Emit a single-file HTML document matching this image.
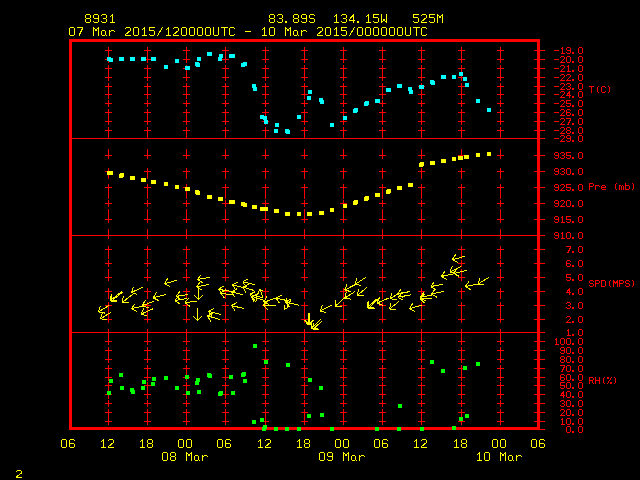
<!DOCTYPE html>
<html><head><meta charset="utf-8"><title>Meteogram 8931</title>
<style>
html,body{margin:0;padding:0;background:#000;font-family:"Liberation Sans",sans-serif;}
svg{display:block}
</style></head>
<body>
<svg width="640" height="480" viewBox="0 0 640 480" shape-rendering="crispEdges">
<rect x="0" y="0" width="640" height="480" fill="#000"/>
<rect x="108" y="47" width="1" height="16" fill="#ff0000"/>
<rect x="108" y="65" width="1" height="16" fill="#ff0000"/>
<rect x="108" y="83" width="1" height="16" fill="#ff0000"/>
<rect x="108" y="100" width="1" height="7" fill="#ff0000"/>
<rect x="108" y="109" width="1" height="16" fill="#ff0000"/>
<rect x="108" y="127" width="1" height="12" fill="#ff0000"/>
<rect x="108" y="149" width="1" height="10" fill="#ff0000"/>
<rect x="108" y="168" width="1" height="11" fill="#ff0000"/>
<rect x="108" y="184" width="1" height="15" fill="#ff0000"/>
<rect x="108" y="200" width="1" height="7" fill="#ff0000"/>
<rect x="108" y="209" width="1" height="14" fill="#ff0000"/>
<rect x="108" y="229" width="1" height="10" fill="#ff0000"/>
<rect x="108" y="246" width="1" height="13" fill="#ff0000"/>
<rect x="108" y="260" width="1" height="7" fill="#ff0000"/>
<rect x="108" y="269" width="1" height="12" fill="#ff0000"/>
<rect x="108" y="288" width="1" height="11" fill="#ff0000"/>
<rect x="108" y="302" width="1" height="21" fill="#ff0000"/>
<rect x="108" y="329" width="1" height="16" fill="#ff0000"/>
<rect x="108" y="347" width="1" height="16" fill="#ff0000"/>
<rect x="108" y="365" width="1" height="16" fill="#ff0000"/>
<rect x="108" y="382" width="1" height="17" fill="#ff0000"/>
<rect x="108" y="400" width="1" height="7" fill="#ff0000"/>
<rect x="108" y="409" width="1" height="16" fill="#ff0000"/>
<rect x="105" y="50" width="7" height="1" fill="#ff0000"/>
<rect x="105" y="59" width="7" height="1" fill="#ff0000"/>
<rect x="105" y="68" width="7" height="1" fill="#ff0000"/>
<rect x="105" y="77" width="7" height="1" fill="#ff0000"/>
<rect x="105" y="86" width="7" height="1" fill="#ff0000"/>
<rect x="105" y="94" width="7" height="1" fill="#ff0000"/>
<rect x="105" y="103" width="7" height="1" fill="#ff0000"/>
<rect x="105" y="112" width="7" height="1" fill="#ff0000"/>
<rect x="105" y="121" width="7" height="1" fill="#ff0000"/>
<rect x="105" y="130" width="7" height="1" fill="#ff0000"/>
<rect x="105" y="155" width="7" height="1" fill="#ff0000"/>
<rect x="105" y="171" width="7" height="1" fill="#ff0000"/>
<rect x="105" y="187" width="7" height="1" fill="#ff0000"/>
<rect x="105" y="203" width="7" height="1" fill="#ff0000"/>
<rect x="105" y="219" width="7" height="1" fill="#ff0000"/>
<rect x="105" y="249" width="7" height="1" fill="#ff0000"/>
<rect x="105" y="263" width="7" height="1" fill="#ff0000"/>
<rect x="105" y="277" width="7" height="1" fill="#ff0000"/>
<rect x="105" y="291" width="7" height="1" fill="#ff0000"/>
<rect x="105" y="305" width="7" height="1" fill="#ff0000"/>
<rect x="105" y="319" width="7" height="1" fill="#ff0000"/>
<rect x="105" y="341" width="7" height="1" fill="#ff0000"/>
<rect x="105" y="350" width="7" height="1" fill="#ff0000"/>
<rect x="105" y="359" width="7" height="1" fill="#ff0000"/>
<rect x="105" y="368" width="7" height="1" fill="#ff0000"/>
<rect x="105" y="377" width="7" height="1" fill="#ff0000"/>
<rect x="105" y="385" width="7" height="1" fill="#ff0000"/>
<rect x="105" y="394" width="7" height="1" fill="#ff0000"/>
<rect x="105" y="403" width="7" height="1" fill="#ff0000"/>
<rect x="105" y="412" width="7" height="1" fill="#ff0000"/>
<rect x="105" y="421" width="7" height="1" fill="#ff0000"/>
<rect x="147" y="47" width="1" height="16" fill="#ff0000"/>
<rect x="147" y="65" width="1" height="16" fill="#ff0000"/>
<rect x="147" y="83" width="1" height="16" fill="#ff0000"/>
<rect x="147" y="100" width="1" height="7" fill="#ff0000"/>
<rect x="147" y="109" width="1" height="16" fill="#ff0000"/>
<rect x="147" y="127" width="1" height="12" fill="#ff0000"/>
<rect x="147" y="149" width="1" height="10" fill="#ff0000"/>
<rect x="147" y="168" width="1" height="11" fill="#ff0000"/>
<rect x="147" y="184" width="1" height="15" fill="#ff0000"/>
<rect x="147" y="200" width="1" height="7" fill="#ff0000"/>
<rect x="147" y="209" width="1" height="14" fill="#ff0000"/>
<rect x="147" y="229" width="1" height="10" fill="#ff0000"/>
<rect x="147" y="246" width="1" height="13" fill="#ff0000"/>
<rect x="147" y="260" width="1" height="7" fill="#ff0000"/>
<rect x="147" y="269" width="1" height="12" fill="#ff0000"/>
<rect x="147" y="288" width="1" height="11" fill="#ff0000"/>
<rect x="147" y="302" width="1" height="21" fill="#ff0000"/>
<rect x="147" y="329" width="1" height="16" fill="#ff0000"/>
<rect x="147" y="347" width="1" height="16" fill="#ff0000"/>
<rect x="147" y="365" width="1" height="16" fill="#ff0000"/>
<rect x="147" y="382" width="1" height="17" fill="#ff0000"/>
<rect x="147" y="400" width="1" height="7" fill="#ff0000"/>
<rect x="147" y="409" width="1" height="16" fill="#ff0000"/>
<rect x="144" y="50" width="7" height="1" fill="#ff0000"/>
<rect x="144" y="59" width="7" height="1" fill="#ff0000"/>
<rect x="144" y="68" width="7" height="1" fill="#ff0000"/>
<rect x="144" y="77" width="7" height="1" fill="#ff0000"/>
<rect x="144" y="86" width="7" height="1" fill="#ff0000"/>
<rect x="144" y="94" width="7" height="1" fill="#ff0000"/>
<rect x="144" y="103" width="7" height="1" fill="#ff0000"/>
<rect x="144" y="112" width="7" height="1" fill="#ff0000"/>
<rect x="144" y="121" width="7" height="1" fill="#ff0000"/>
<rect x="144" y="130" width="7" height="1" fill="#ff0000"/>
<rect x="144" y="155" width="7" height="1" fill="#ff0000"/>
<rect x="144" y="171" width="7" height="1" fill="#ff0000"/>
<rect x="144" y="187" width="7" height="1" fill="#ff0000"/>
<rect x="144" y="203" width="7" height="1" fill="#ff0000"/>
<rect x="144" y="219" width="7" height="1" fill="#ff0000"/>
<rect x="144" y="249" width="7" height="1" fill="#ff0000"/>
<rect x="144" y="263" width="7" height="1" fill="#ff0000"/>
<rect x="144" y="277" width="7" height="1" fill="#ff0000"/>
<rect x="144" y="291" width="7" height="1" fill="#ff0000"/>
<rect x="144" y="305" width="7" height="1" fill="#ff0000"/>
<rect x="144" y="319" width="7" height="1" fill="#ff0000"/>
<rect x="144" y="341" width="7" height="1" fill="#ff0000"/>
<rect x="144" y="350" width="7" height="1" fill="#ff0000"/>
<rect x="144" y="359" width="7" height="1" fill="#ff0000"/>
<rect x="144" y="368" width="7" height="1" fill="#ff0000"/>
<rect x="144" y="377" width="7" height="1" fill="#ff0000"/>
<rect x="144" y="385" width="7" height="1" fill="#ff0000"/>
<rect x="144" y="394" width="7" height="1" fill="#ff0000"/>
<rect x="144" y="403" width="7" height="1" fill="#ff0000"/>
<rect x="144" y="412" width="7" height="1" fill="#ff0000"/>
<rect x="144" y="421" width="7" height="1" fill="#ff0000"/>
<rect x="186" y="47" width="1" height="16" fill="#ff0000"/>
<rect x="186" y="65" width="1" height="16" fill="#ff0000"/>
<rect x="186" y="83" width="1" height="16" fill="#ff0000"/>
<rect x="186" y="100" width="1" height="7" fill="#ff0000"/>
<rect x="186" y="109" width="1" height="16" fill="#ff0000"/>
<rect x="186" y="127" width="1" height="12" fill="#ff0000"/>
<rect x="186" y="149" width="1" height="10" fill="#ff0000"/>
<rect x="186" y="168" width="1" height="11" fill="#ff0000"/>
<rect x="186" y="184" width="1" height="15" fill="#ff0000"/>
<rect x="186" y="200" width="1" height="7" fill="#ff0000"/>
<rect x="186" y="209" width="1" height="14" fill="#ff0000"/>
<rect x="186" y="229" width="1" height="10" fill="#ff0000"/>
<rect x="186" y="246" width="1" height="13" fill="#ff0000"/>
<rect x="186" y="260" width="1" height="7" fill="#ff0000"/>
<rect x="186" y="269" width="1" height="12" fill="#ff0000"/>
<rect x="186" y="288" width="1" height="11" fill="#ff0000"/>
<rect x="186" y="302" width="1" height="21" fill="#ff0000"/>
<rect x="186" y="329" width="1" height="16" fill="#ff0000"/>
<rect x="186" y="347" width="1" height="16" fill="#ff0000"/>
<rect x="186" y="365" width="1" height="16" fill="#ff0000"/>
<rect x="186" y="382" width="1" height="17" fill="#ff0000"/>
<rect x="186" y="400" width="1" height="7" fill="#ff0000"/>
<rect x="186" y="409" width="1" height="16" fill="#ff0000"/>
<rect x="183" y="50" width="7" height="1" fill="#ff0000"/>
<rect x="183" y="59" width="7" height="1" fill="#ff0000"/>
<rect x="183" y="68" width="7" height="1" fill="#ff0000"/>
<rect x="183" y="77" width="7" height="1" fill="#ff0000"/>
<rect x="183" y="86" width="7" height="1" fill="#ff0000"/>
<rect x="183" y="94" width="7" height="1" fill="#ff0000"/>
<rect x="183" y="103" width="7" height="1" fill="#ff0000"/>
<rect x="183" y="112" width="7" height="1" fill="#ff0000"/>
<rect x="183" y="121" width="7" height="1" fill="#ff0000"/>
<rect x="183" y="130" width="7" height="1" fill="#ff0000"/>
<rect x="183" y="155" width="7" height="1" fill="#ff0000"/>
<rect x="183" y="171" width="7" height="1" fill="#ff0000"/>
<rect x="183" y="187" width="7" height="1" fill="#ff0000"/>
<rect x="183" y="203" width="7" height="1" fill="#ff0000"/>
<rect x="183" y="219" width="7" height="1" fill="#ff0000"/>
<rect x="183" y="249" width="7" height="1" fill="#ff0000"/>
<rect x="183" y="263" width="7" height="1" fill="#ff0000"/>
<rect x="183" y="277" width="7" height="1" fill="#ff0000"/>
<rect x="183" y="291" width="7" height="1" fill="#ff0000"/>
<rect x="183" y="305" width="7" height="1" fill="#ff0000"/>
<rect x="183" y="319" width="7" height="1" fill="#ff0000"/>
<rect x="183" y="341" width="7" height="1" fill="#ff0000"/>
<rect x="183" y="350" width="7" height="1" fill="#ff0000"/>
<rect x="183" y="359" width="7" height="1" fill="#ff0000"/>
<rect x="183" y="368" width="7" height="1" fill="#ff0000"/>
<rect x="183" y="377" width="7" height="1" fill="#ff0000"/>
<rect x="183" y="385" width="7" height="1" fill="#ff0000"/>
<rect x="183" y="394" width="7" height="1" fill="#ff0000"/>
<rect x="183" y="403" width="7" height="1" fill="#ff0000"/>
<rect x="183" y="412" width="7" height="1" fill="#ff0000"/>
<rect x="183" y="421" width="7" height="1" fill="#ff0000"/>
<rect x="225" y="47" width="1" height="16" fill="#ff0000"/>
<rect x="225" y="65" width="1" height="16" fill="#ff0000"/>
<rect x="225" y="83" width="1" height="16" fill="#ff0000"/>
<rect x="225" y="100" width="1" height="7" fill="#ff0000"/>
<rect x="225" y="109" width="1" height="16" fill="#ff0000"/>
<rect x="225" y="127" width="1" height="12" fill="#ff0000"/>
<rect x="225" y="149" width="1" height="10" fill="#ff0000"/>
<rect x="225" y="168" width="1" height="11" fill="#ff0000"/>
<rect x="225" y="184" width="1" height="15" fill="#ff0000"/>
<rect x="225" y="200" width="1" height="7" fill="#ff0000"/>
<rect x="225" y="209" width="1" height="14" fill="#ff0000"/>
<rect x="225" y="229" width="1" height="10" fill="#ff0000"/>
<rect x="225" y="246" width="1" height="13" fill="#ff0000"/>
<rect x="225" y="260" width="1" height="7" fill="#ff0000"/>
<rect x="225" y="269" width="1" height="12" fill="#ff0000"/>
<rect x="225" y="288" width="1" height="11" fill="#ff0000"/>
<rect x="225" y="302" width="1" height="21" fill="#ff0000"/>
<rect x="225" y="329" width="1" height="16" fill="#ff0000"/>
<rect x="225" y="347" width="1" height="16" fill="#ff0000"/>
<rect x="225" y="365" width="1" height="16" fill="#ff0000"/>
<rect x="225" y="382" width="1" height="17" fill="#ff0000"/>
<rect x="225" y="400" width="1" height="7" fill="#ff0000"/>
<rect x="225" y="409" width="1" height="16" fill="#ff0000"/>
<rect x="222" y="50" width="7" height="1" fill="#ff0000"/>
<rect x="222" y="59" width="7" height="1" fill="#ff0000"/>
<rect x="222" y="68" width="7" height="1" fill="#ff0000"/>
<rect x="222" y="77" width="7" height="1" fill="#ff0000"/>
<rect x="222" y="86" width="7" height="1" fill="#ff0000"/>
<rect x="222" y="94" width="7" height="1" fill="#ff0000"/>
<rect x="222" y="103" width="7" height="1" fill="#ff0000"/>
<rect x="222" y="112" width="7" height="1" fill="#ff0000"/>
<rect x="222" y="121" width="7" height="1" fill="#ff0000"/>
<rect x="222" y="130" width="7" height="1" fill="#ff0000"/>
<rect x="222" y="155" width="7" height="1" fill="#ff0000"/>
<rect x="222" y="171" width="7" height="1" fill="#ff0000"/>
<rect x="222" y="187" width="7" height="1" fill="#ff0000"/>
<rect x="222" y="203" width="7" height="1" fill="#ff0000"/>
<rect x="222" y="219" width="7" height="1" fill="#ff0000"/>
<rect x="222" y="249" width="7" height="1" fill="#ff0000"/>
<rect x="222" y="263" width="7" height="1" fill="#ff0000"/>
<rect x="222" y="277" width="7" height="1" fill="#ff0000"/>
<rect x="222" y="291" width="7" height="1" fill="#ff0000"/>
<rect x="222" y="305" width="7" height="1" fill="#ff0000"/>
<rect x="222" y="319" width="7" height="1" fill="#ff0000"/>
<rect x="222" y="341" width="7" height="1" fill="#ff0000"/>
<rect x="222" y="350" width="7" height="1" fill="#ff0000"/>
<rect x="222" y="359" width="7" height="1" fill="#ff0000"/>
<rect x="222" y="368" width="7" height="1" fill="#ff0000"/>
<rect x="222" y="377" width="7" height="1" fill="#ff0000"/>
<rect x="222" y="385" width="7" height="1" fill="#ff0000"/>
<rect x="222" y="394" width="7" height="1" fill="#ff0000"/>
<rect x="222" y="403" width="7" height="1" fill="#ff0000"/>
<rect x="222" y="412" width="7" height="1" fill="#ff0000"/>
<rect x="222" y="421" width="7" height="1" fill="#ff0000"/>
<rect x="265" y="47" width="1" height="16" fill="#ff0000"/>
<rect x="265" y="65" width="1" height="16" fill="#ff0000"/>
<rect x="265" y="83" width="1" height="16" fill="#ff0000"/>
<rect x="265" y="100" width="1" height="7" fill="#ff0000"/>
<rect x="265" y="109" width="1" height="16" fill="#ff0000"/>
<rect x="265" y="127" width="1" height="12" fill="#ff0000"/>
<rect x="265" y="149" width="1" height="10" fill="#ff0000"/>
<rect x="265" y="168" width="1" height="11" fill="#ff0000"/>
<rect x="265" y="184" width="1" height="15" fill="#ff0000"/>
<rect x="265" y="200" width="1" height="7" fill="#ff0000"/>
<rect x="265" y="209" width="1" height="14" fill="#ff0000"/>
<rect x="265" y="229" width="1" height="10" fill="#ff0000"/>
<rect x="265" y="246" width="1" height="13" fill="#ff0000"/>
<rect x="265" y="260" width="1" height="7" fill="#ff0000"/>
<rect x="265" y="269" width="1" height="12" fill="#ff0000"/>
<rect x="265" y="288" width="1" height="11" fill="#ff0000"/>
<rect x="265" y="302" width="1" height="21" fill="#ff0000"/>
<rect x="265" y="329" width="1" height="16" fill="#ff0000"/>
<rect x="265" y="347" width="1" height="16" fill="#ff0000"/>
<rect x="265" y="365" width="1" height="16" fill="#ff0000"/>
<rect x="265" y="382" width="1" height="17" fill="#ff0000"/>
<rect x="265" y="400" width="1" height="7" fill="#ff0000"/>
<rect x="265" y="409" width="1" height="16" fill="#ff0000"/>
<rect x="262" y="50" width="7" height="1" fill="#ff0000"/>
<rect x="262" y="59" width="7" height="1" fill="#ff0000"/>
<rect x="262" y="68" width="7" height="1" fill="#ff0000"/>
<rect x="262" y="77" width="7" height="1" fill="#ff0000"/>
<rect x="262" y="86" width="7" height="1" fill="#ff0000"/>
<rect x="262" y="94" width="7" height="1" fill="#ff0000"/>
<rect x="262" y="103" width="7" height="1" fill="#ff0000"/>
<rect x="262" y="112" width="7" height="1" fill="#ff0000"/>
<rect x="262" y="121" width="7" height="1" fill="#ff0000"/>
<rect x="262" y="130" width="7" height="1" fill="#ff0000"/>
<rect x="262" y="155" width="7" height="1" fill="#ff0000"/>
<rect x="262" y="171" width="7" height="1" fill="#ff0000"/>
<rect x="262" y="187" width="7" height="1" fill="#ff0000"/>
<rect x="262" y="203" width="7" height="1" fill="#ff0000"/>
<rect x="262" y="219" width="7" height="1" fill="#ff0000"/>
<rect x="262" y="249" width="7" height="1" fill="#ff0000"/>
<rect x="262" y="263" width="7" height="1" fill="#ff0000"/>
<rect x="262" y="277" width="7" height="1" fill="#ff0000"/>
<rect x="262" y="291" width="7" height="1" fill="#ff0000"/>
<rect x="262" y="305" width="7" height="1" fill="#ff0000"/>
<rect x="262" y="319" width="7" height="1" fill="#ff0000"/>
<rect x="262" y="341" width="7" height="1" fill="#ff0000"/>
<rect x="262" y="350" width="7" height="1" fill="#ff0000"/>
<rect x="262" y="359" width="7" height="1" fill="#ff0000"/>
<rect x="262" y="368" width="7" height="1" fill="#ff0000"/>
<rect x="262" y="377" width="7" height="1" fill="#ff0000"/>
<rect x="262" y="385" width="7" height="1" fill="#ff0000"/>
<rect x="262" y="394" width="7" height="1" fill="#ff0000"/>
<rect x="262" y="403" width="7" height="1" fill="#ff0000"/>
<rect x="262" y="412" width="7" height="1" fill="#ff0000"/>
<rect x="262" y="421" width="7" height="1" fill="#ff0000"/>
<rect x="304" y="47" width="1" height="16" fill="#ff0000"/>
<rect x="304" y="65" width="1" height="16" fill="#ff0000"/>
<rect x="304" y="83" width="1" height="16" fill="#ff0000"/>
<rect x="304" y="100" width="1" height="7" fill="#ff0000"/>
<rect x="304" y="109" width="1" height="16" fill="#ff0000"/>
<rect x="304" y="127" width="1" height="12" fill="#ff0000"/>
<rect x="304" y="149" width="1" height="10" fill="#ff0000"/>
<rect x="304" y="168" width="1" height="11" fill="#ff0000"/>
<rect x="304" y="184" width="1" height="15" fill="#ff0000"/>
<rect x="304" y="200" width="1" height="7" fill="#ff0000"/>
<rect x="304" y="209" width="1" height="14" fill="#ff0000"/>
<rect x="304" y="229" width="1" height="10" fill="#ff0000"/>
<rect x="304" y="246" width="1" height="13" fill="#ff0000"/>
<rect x="304" y="260" width="1" height="7" fill="#ff0000"/>
<rect x="304" y="269" width="1" height="12" fill="#ff0000"/>
<rect x="304" y="288" width="1" height="11" fill="#ff0000"/>
<rect x="304" y="302" width="1" height="21" fill="#ff0000"/>
<rect x="304" y="329" width="1" height="16" fill="#ff0000"/>
<rect x="304" y="347" width="1" height="16" fill="#ff0000"/>
<rect x="304" y="365" width="1" height="16" fill="#ff0000"/>
<rect x="304" y="382" width="1" height="17" fill="#ff0000"/>
<rect x="304" y="400" width="1" height="7" fill="#ff0000"/>
<rect x="304" y="409" width="1" height="16" fill="#ff0000"/>
<rect x="301" y="50" width="7" height="1" fill="#ff0000"/>
<rect x="301" y="59" width="7" height="1" fill="#ff0000"/>
<rect x="301" y="68" width="7" height="1" fill="#ff0000"/>
<rect x="301" y="77" width="7" height="1" fill="#ff0000"/>
<rect x="301" y="86" width="7" height="1" fill="#ff0000"/>
<rect x="301" y="94" width="7" height="1" fill="#ff0000"/>
<rect x="301" y="103" width="7" height="1" fill="#ff0000"/>
<rect x="301" y="112" width="7" height="1" fill="#ff0000"/>
<rect x="301" y="121" width="7" height="1" fill="#ff0000"/>
<rect x="301" y="130" width="7" height="1" fill="#ff0000"/>
<rect x="301" y="155" width="7" height="1" fill="#ff0000"/>
<rect x="301" y="171" width="7" height="1" fill="#ff0000"/>
<rect x="301" y="187" width="7" height="1" fill="#ff0000"/>
<rect x="301" y="203" width="7" height="1" fill="#ff0000"/>
<rect x="301" y="219" width="7" height="1" fill="#ff0000"/>
<rect x="301" y="249" width="7" height="1" fill="#ff0000"/>
<rect x="301" y="263" width="7" height="1" fill="#ff0000"/>
<rect x="301" y="277" width="7" height="1" fill="#ff0000"/>
<rect x="301" y="291" width="7" height="1" fill="#ff0000"/>
<rect x="301" y="305" width="7" height="1" fill="#ff0000"/>
<rect x="301" y="319" width="7" height="1" fill="#ff0000"/>
<rect x="301" y="341" width="7" height="1" fill="#ff0000"/>
<rect x="301" y="350" width="7" height="1" fill="#ff0000"/>
<rect x="301" y="359" width="7" height="1" fill="#ff0000"/>
<rect x="301" y="368" width="7" height="1" fill="#ff0000"/>
<rect x="301" y="377" width="7" height="1" fill="#ff0000"/>
<rect x="301" y="385" width="7" height="1" fill="#ff0000"/>
<rect x="301" y="394" width="7" height="1" fill="#ff0000"/>
<rect x="301" y="403" width="7" height="1" fill="#ff0000"/>
<rect x="301" y="412" width="7" height="1" fill="#ff0000"/>
<rect x="301" y="421" width="7" height="1" fill="#ff0000"/>
<rect x="343" y="47" width="1" height="16" fill="#ff0000"/>
<rect x="343" y="65" width="1" height="16" fill="#ff0000"/>
<rect x="343" y="83" width="1" height="16" fill="#ff0000"/>
<rect x="343" y="100" width="1" height="7" fill="#ff0000"/>
<rect x="343" y="109" width="1" height="16" fill="#ff0000"/>
<rect x="343" y="127" width="1" height="12" fill="#ff0000"/>
<rect x="343" y="149" width="1" height="10" fill="#ff0000"/>
<rect x="343" y="168" width="1" height="11" fill="#ff0000"/>
<rect x="343" y="184" width="1" height="15" fill="#ff0000"/>
<rect x="343" y="200" width="1" height="7" fill="#ff0000"/>
<rect x="343" y="209" width="1" height="14" fill="#ff0000"/>
<rect x="343" y="229" width="1" height="10" fill="#ff0000"/>
<rect x="343" y="246" width="1" height="13" fill="#ff0000"/>
<rect x="343" y="260" width="1" height="7" fill="#ff0000"/>
<rect x="343" y="269" width="1" height="12" fill="#ff0000"/>
<rect x="343" y="288" width="1" height="11" fill="#ff0000"/>
<rect x="343" y="302" width="1" height="21" fill="#ff0000"/>
<rect x="343" y="329" width="1" height="16" fill="#ff0000"/>
<rect x="343" y="347" width="1" height="16" fill="#ff0000"/>
<rect x="343" y="365" width="1" height="16" fill="#ff0000"/>
<rect x="343" y="382" width="1" height="17" fill="#ff0000"/>
<rect x="343" y="400" width="1" height="7" fill="#ff0000"/>
<rect x="343" y="409" width="1" height="16" fill="#ff0000"/>
<rect x="340" y="50" width="7" height="1" fill="#ff0000"/>
<rect x="340" y="59" width="7" height="1" fill="#ff0000"/>
<rect x="340" y="68" width="7" height="1" fill="#ff0000"/>
<rect x="340" y="77" width="7" height="1" fill="#ff0000"/>
<rect x="340" y="86" width="7" height="1" fill="#ff0000"/>
<rect x="340" y="94" width="7" height="1" fill="#ff0000"/>
<rect x="340" y="103" width="7" height="1" fill="#ff0000"/>
<rect x="340" y="112" width="7" height="1" fill="#ff0000"/>
<rect x="340" y="121" width="7" height="1" fill="#ff0000"/>
<rect x="340" y="130" width="7" height="1" fill="#ff0000"/>
<rect x="340" y="155" width="7" height="1" fill="#ff0000"/>
<rect x="340" y="171" width="7" height="1" fill="#ff0000"/>
<rect x="340" y="187" width="7" height="1" fill="#ff0000"/>
<rect x="340" y="203" width="7" height="1" fill="#ff0000"/>
<rect x="340" y="219" width="7" height="1" fill="#ff0000"/>
<rect x="340" y="249" width="7" height="1" fill="#ff0000"/>
<rect x="340" y="263" width="7" height="1" fill="#ff0000"/>
<rect x="340" y="277" width="7" height="1" fill="#ff0000"/>
<rect x="340" y="291" width="7" height="1" fill="#ff0000"/>
<rect x="340" y="305" width="7" height="1" fill="#ff0000"/>
<rect x="340" y="319" width="7" height="1" fill="#ff0000"/>
<rect x="340" y="341" width="7" height="1" fill="#ff0000"/>
<rect x="340" y="350" width="7" height="1" fill="#ff0000"/>
<rect x="340" y="359" width="7" height="1" fill="#ff0000"/>
<rect x="340" y="368" width="7" height="1" fill="#ff0000"/>
<rect x="340" y="377" width="7" height="1" fill="#ff0000"/>
<rect x="340" y="385" width="7" height="1" fill="#ff0000"/>
<rect x="340" y="394" width="7" height="1" fill="#ff0000"/>
<rect x="340" y="403" width="7" height="1" fill="#ff0000"/>
<rect x="340" y="412" width="7" height="1" fill="#ff0000"/>
<rect x="340" y="421" width="7" height="1" fill="#ff0000"/>
<rect x="382" y="47" width="1" height="16" fill="#ff0000"/>
<rect x="382" y="65" width="1" height="16" fill="#ff0000"/>
<rect x="382" y="83" width="1" height="16" fill="#ff0000"/>
<rect x="382" y="100" width="1" height="7" fill="#ff0000"/>
<rect x="382" y="109" width="1" height="16" fill="#ff0000"/>
<rect x="382" y="127" width="1" height="12" fill="#ff0000"/>
<rect x="382" y="149" width="1" height="10" fill="#ff0000"/>
<rect x="382" y="168" width="1" height="11" fill="#ff0000"/>
<rect x="382" y="184" width="1" height="15" fill="#ff0000"/>
<rect x="382" y="200" width="1" height="7" fill="#ff0000"/>
<rect x="382" y="209" width="1" height="14" fill="#ff0000"/>
<rect x="382" y="229" width="1" height="10" fill="#ff0000"/>
<rect x="382" y="246" width="1" height="13" fill="#ff0000"/>
<rect x="382" y="260" width="1" height="7" fill="#ff0000"/>
<rect x="382" y="269" width="1" height="12" fill="#ff0000"/>
<rect x="382" y="288" width="1" height="11" fill="#ff0000"/>
<rect x="382" y="302" width="1" height="21" fill="#ff0000"/>
<rect x="382" y="329" width="1" height="16" fill="#ff0000"/>
<rect x="382" y="347" width="1" height="16" fill="#ff0000"/>
<rect x="382" y="365" width="1" height="16" fill="#ff0000"/>
<rect x="382" y="382" width="1" height="17" fill="#ff0000"/>
<rect x="382" y="400" width="1" height="7" fill="#ff0000"/>
<rect x="382" y="409" width="1" height="16" fill="#ff0000"/>
<rect x="379" y="50" width="7" height="1" fill="#ff0000"/>
<rect x="379" y="59" width="7" height="1" fill="#ff0000"/>
<rect x="379" y="68" width="7" height="1" fill="#ff0000"/>
<rect x="379" y="77" width="7" height="1" fill="#ff0000"/>
<rect x="379" y="86" width="7" height="1" fill="#ff0000"/>
<rect x="379" y="94" width="7" height="1" fill="#ff0000"/>
<rect x="379" y="103" width="7" height="1" fill="#ff0000"/>
<rect x="379" y="112" width="7" height="1" fill="#ff0000"/>
<rect x="379" y="121" width="7" height="1" fill="#ff0000"/>
<rect x="379" y="130" width="7" height="1" fill="#ff0000"/>
<rect x="379" y="155" width="7" height="1" fill="#ff0000"/>
<rect x="379" y="171" width="7" height="1" fill="#ff0000"/>
<rect x="379" y="187" width="7" height="1" fill="#ff0000"/>
<rect x="379" y="203" width="7" height="1" fill="#ff0000"/>
<rect x="379" y="219" width="7" height="1" fill="#ff0000"/>
<rect x="379" y="249" width="7" height="1" fill="#ff0000"/>
<rect x="379" y="263" width="7" height="1" fill="#ff0000"/>
<rect x="379" y="277" width="7" height="1" fill="#ff0000"/>
<rect x="379" y="291" width="7" height="1" fill="#ff0000"/>
<rect x="379" y="305" width="7" height="1" fill="#ff0000"/>
<rect x="379" y="319" width="7" height="1" fill="#ff0000"/>
<rect x="379" y="341" width="7" height="1" fill="#ff0000"/>
<rect x="379" y="350" width="7" height="1" fill="#ff0000"/>
<rect x="379" y="359" width="7" height="1" fill="#ff0000"/>
<rect x="379" y="368" width="7" height="1" fill="#ff0000"/>
<rect x="379" y="377" width="7" height="1" fill="#ff0000"/>
<rect x="379" y="385" width="7" height="1" fill="#ff0000"/>
<rect x="379" y="394" width="7" height="1" fill="#ff0000"/>
<rect x="379" y="403" width="7" height="1" fill="#ff0000"/>
<rect x="379" y="412" width="7" height="1" fill="#ff0000"/>
<rect x="379" y="421" width="7" height="1" fill="#ff0000"/>
<rect x="421" y="47" width="1" height="16" fill="#ff0000"/>
<rect x="421" y="65" width="1" height="16" fill="#ff0000"/>
<rect x="421" y="83" width="1" height="16" fill="#ff0000"/>
<rect x="421" y="100" width="1" height="7" fill="#ff0000"/>
<rect x="421" y="109" width="1" height="16" fill="#ff0000"/>
<rect x="421" y="127" width="1" height="12" fill="#ff0000"/>
<rect x="421" y="149" width="1" height="10" fill="#ff0000"/>
<rect x="421" y="168" width="1" height="11" fill="#ff0000"/>
<rect x="421" y="184" width="1" height="15" fill="#ff0000"/>
<rect x="421" y="200" width="1" height="7" fill="#ff0000"/>
<rect x="421" y="209" width="1" height="14" fill="#ff0000"/>
<rect x="421" y="229" width="1" height="10" fill="#ff0000"/>
<rect x="421" y="246" width="1" height="13" fill="#ff0000"/>
<rect x="421" y="260" width="1" height="7" fill="#ff0000"/>
<rect x="421" y="269" width="1" height="12" fill="#ff0000"/>
<rect x="421" y="288" width="1" height="11" fill="#ff0000"/>
<rect x="421" y="302" width="1" height="21" fill="#ff0000"/>
<rect x="421" y="329" width="1" height="16" fill="#ff0000"/>
<rect x="421" y="347" width="1" height="16" fill="#ff0000"/>
<rect x="421" y="365" width="1" height="16" fill="#ff0000"/>
<rect x="421" y="382" width="1" height="17" fill="#ff0000"/>
<rect x="421" y="400" width="1" height="7" fill="#ff0000"/>
<rect x="421" y="409" width="1" height="16" fill="#ff0000"/>
<rect x="418" y="50" width="7" height="1" fill="#ff0000"/>
<rect x="418" y="59" width="7" height="1" fill="#ff0000"/>
<rect x="418" y="68" width="7" height="1" fill="#ff0000"/>
<rect x="418" y="77" width="7" height="1" fill="#ff0000"/>
<rect x="418" y="86" width="7" height="1" fill="#ff0000"/>
<rect x="418" y="94" width="7" height="1" fill="#ff0000"/>
<rect x="418" y="103" width="7" height="1" fill="#ff0000"/>
<rect x="418" y="112" width="7" height="1" fill="#ff0000"/>
<rect x="418" y="121" width="7" height="1" fill="#ff0000"/>
<rect x="418" y="130" width="7" height="1" fill="#ff0000"/>
<rect x="418" y="155" width="7" height="1" fill="#ff0000"/>
<rect x="418" y="171" width="7" height="1" fill="#ff0000"/>
<rect x="418" y="187" width="7" height="1" fill="#ff0000"/>
<rect x="418" y="203" width="7" height="1" fill="#ff0000"/>
<rect x="418" y="219" width="7" height="1" fill="#ff0000"/>
<rect x="418" y="249" width="7" height="1" fill="#ff0000"/>
<rect x="418" y="263" width="7" height="1" fill="#ff0000"/>
<rect x="418" y="277" width="7" height="1" fill="#ff0000"/>
<rect x="418" y="291" width="7" height="1" fill="#ff0000"/>
<rect x="418" y="305" width="7" height="1" fill="#ff0000"/>
<rect x="418" y="319" width="7" height="1" fill="#ff0000"/>
<rect x="418" y="341" width="7" height="1" fill="#ff0000"/>
<rect x="418" y="350" width="7" height="1" fill="#ff0000"/>
<rect x="418" y="359" width="7" height="1" fill="#ff0000"/>
<rect x="418" y="368" width="7" height="1" fill="#ff0000"/>
<rect x="418" y="377" width="7" height="1" fill="#ff0000"/>
<rect x="418" y="385" width="7" height="1" fill="#ff0000"/>
<rect x="418" y="394" width="7" height="1" fill="#ff0000"/>
<rect x="418" y="403" width="7" height="1" fill="#ff0000"/>
<rect x="418" y="412" width="7" height="1" fill="#ff0000"/>
<rect x="418" y="421" width="7" height="1" fill="#ff0000"/>
<rect x="461" y="47" width="1" height="16" fill="#ff0000"/>
<rect x="461" y="65" width="1" height="16" fill="#ff0000"/>
<rect x="461" y="83" width="1" height="16" fill="#ff0000"/>
<rect x="461" y="100" width="1" height="7" fill="#ff0000"/>
<rect x="461" y="109" width="1" height="16" fill="#ff0000"/>
<rect x="461" y="127" width="1" height="12" fill="#ff0000"/>
<rect x="461" y="149" width="1" height="10" fill="#ff0000"/>
<rect x="461" y="168" width="1" height="11" fill="#ff0000"/>
<rect x="461" y="184" width="1" height="15" fill="#ff0000"/>
<rect x="461" y="200" width="1" height="7" fill="#ff0000"/>
<rect x="461" y="209" width="1" height="14" fill="#ff0000"/>
<rect x="461" y="229" width="1" height="10" fill="#ff0000"/>
<rect x="461" y="246" width="1" height="13" fill="#ff0000"/>
<rect x="461" y="260" width="1" height="7" fill="#ff0000"/>
<rect x="461" y="269" width="1" height="12" fill="#ff0000"/>
<rect x="461" y="288" width="1" height="11" fill="#ff0000"/>
<rect x="461" y="302" width="1" height="21" fill="#ff0000"/>
<rect x="461" y="329" width="1" height="16" fill="#ff0000"/>
<rect x="461" y="347" width="1" height="16" fill="#ff0000"/>
<rect x="461" y="365" width="1" height="16" fill="#ff0000"/>
<rect x="461" y="382" width="1" height="17" fill="#ff0000"/>
<rect x="461" y="400" width="1" height="7" fill="#ff0000"/>
<rect x="461" y="409" width="1" height="16" fill="#ff0000"/>
<rect x="458" y="50" width="7" height="1" fill="#ff0000"/>
<rect x="458" y="59" width="7" height="1" fill="#ff0000"/>
<rect x="458" y="68" width="7" height="1" fill="#ff0000"/>
<rect x="458" y="77" width="7" height="1" fill="#ff0000"/>
<rect x="458" y="86" width="7" height="1" fill="#ff0000"/>
<rect x="458" y="94" width="7" height="1" fill="#ff0000"/>
<rect x="458" y="103" width="7" height="1" fill="#ff0000"/>
<rect x="458" y="112" width="7" height="1" fill="#ff0000"/>
<rect x="458" y="121" width="7" height="1" fill="#ff0000"/>
<rect x="458" y="130" width="7" height="1" fill="#ff0000"/>
<rect x="458" y="155" width="7" height="1" fill="#ff0000"/>
<rect x="458" y="171" width="7" height="1" fill="#ff0000"/>
<rect x="458" y="187" width="7" height="1" fill="#ff0000"/>
<rect x="458" y="203" width="7" height="1" fill="#ff0000"/>
<rect x="458" y="219" width="7" height="1" fill="#ff0000"/>
<rect x="458" y="249" width="7" height="1" fill="#ff0000"/>
<rect x="458" y="263" width="7" height="1" fill="#ff0000"/>
<rect x="458" y="277" width="7" height="1" fill="#ff0000"/>
<rect x="458" y="291" width="7" height="1" fill="#ff0000"/>
<rect x="458" y="305" width="7" height="1" fill="#ff0000"/>
<rect x="458" y="319" width="7" height="1" fill="#ff0000"/>
<rect x="458" y="341" width="7" height="1" fill="#ff0000"/>
<rect x="458" y="350" width="7" height="1" fill="#ff0000"/>
<rect x="458" y="359" width="7" height="1" fill="#ff0000"/>
<rect x="458" y="368" width="7" height="1" fill="#ff0000"/>
<rect x="458" y="377" width="7" height="1" fill="#ff0000"/>
<rect x="458" y="385" width="7" height="1" fill="#ff0000"/>
<rect x="458" y="394" width="7" height="1" fill="#ff0000"/>
<rect x="458" y="403" width="7" height="1" fill="#ff0000"/>
<rect x="458" y="412" width="7" height="1" fill="#ff0000"/>
<rect x="458" y="421" width="7" height="1" fill="#ff0000"/>
<rect x="500" y="47" width="1" height="16" fill="#ff0000"/>
<rect x="500" y="65" width="1" height="16" fill="#ff0000"/>
<rect x="500" y="83" width="1" height="16" fill="#ff0000"/>
<rect x="500" y="100" width="1" height="7" fill="#ff0000"/>
<rect x="500" y="109" width="1" height="16" fill="#ff0000"/>
<rect x="500" y="127" width="1" height="12" fill="#ff0000"/>
<rect x="500" y="149" width="1" height="10" fill="#ff0000"/>
<rect x="500" y="168" width="1" height="11" fill="#ff0000"/>
<rect x="500" y="184" width="1" height="15" fill="#ff0000"/>
<rect x="500" y="200" width="1" height="7" fill="#ff0000"/>
<rect x="500" y="209" width="1" height="14" fill="#ff0000"/>
<rect x="500" y="229" width="1" height="10" fill="#ff0000"/>
<rect x="500" y="246" width="1" height="13" fill="#ff0000"/>
<rect x="500" y="260" width="1" height="7" fill="#ff0000"/>
<rect x="500" y="269" width="1" height="12" fill="#ff0000"/>
<rect x="500" y="288" width="1" height="11" fill="#ff0000"/>
<rect x="500" y="302" width="1" height="21" fill="#ff0000"/>
<rect x="500" y="329" width="1" height="16" fill="#ff0000"/>
<rect x="500" y="347" width="1" height="16" fill="#ff0000"/>
<rect x="500" y="365" width="1" height="16" fill="#ff0000"/>
<rect x="500" y="382" width="1" height="17" fill="#ff0000"/>
<rect x="500" y="400" width="1" height="7" fill="#ff0000"/>
<rect x="500" y="409" width="1" height="16" fill="#ff0000"/>
<rect x="497" y="50" width="7" height="1" fill="#ff0000"/>
<rect x="497" y="59" width="7" height="1" fill="#ff0000"/>
<rect x="497" y="68" width="7" height="1" fill="#ff0000"/>
<rect x="497" y="77" width="7" height="1" fill="#ff0000"/>
<rect x="497" y="86" width="7" height="1" fill="#ff0000"/>
<rect x="497" y="94" width="7" height="1" fill="#ff0000"/>
<rect x="497" y="103" width="7" height="1" fill="#ff0000"/>
<rect x="497" y="112" width="7" height="1" fill="#ff0000"/>
<rect x="497" y="121" width="7" height="1" fill="#ff0000"/>
<rect x="497" y="130" width="7" height="1" fill="#ff0000"/>
<rect x="497" y="155" width="7" height="1" fill="#ff0000"/>
<rect x="497" y="171" width="7" height="1" fill="#ff0000"/>
<rect x="497" y="187" width="7" height="1" fill="#ff0000"/>
<rect x="497" y="203" width="7" height="1" fill="#ff0000"/>
<rect x="497" y="219" width="7" height="1" fill="#ff0000"/>
<rect x="497" y="249" width="7" height="1" fill="#ff0000"/>
<rect x="497" y="263" width="7" height="1" fill="#ff0000"/>
<rect x="497" y="277" width="7" height="1" fill="#ff0000"/>
<rect x="497" y="291" width="7" height="1" fill="#ff0000"/>
<rect x="497" y="305" width="7" height="1" fill="#ff0000"/>
<rect x="497" y="319" width="7" height="1" fill="#ff0000"/>
<rect x="497" y="341" width="7" height="1" fill="#ff0000"/>
<rect x="497" y="350" width="7" height="1" fill="#ff0000"/>
<rect x="497" y="359" width="7" height="1" fill="#ff0000"/>
<rect x="497" y="368" width="7" height="1" fill="#ff0000"/>
<rect x="497" y="377" width="7" height="1" fill="#ff0000"/>
<rect x="497" y="385" width="7" height="1" fill="#ff0000"/>
<rect x="497" y="394" width="7" height="1" fill="#ff0000"/>
<rect x="497" y="403" width="7" height="1" fill="#ff0000"/>
<rect x="497" y="412" width="7" height="1" fill="#ff0000"/>
<rect x="497" y="421" width="7" height="1" fill="#ff0000"/>
<rect x="69" y="138" width="476" height="1" fill="#ff0000"/>
<rect x="69" y="235" width="476" height="1" fill="#ff0000"/>
<rect x="69" y="332" width="476" height="1" fill="#ff0000"/>
<rect x="534" y="50" width="11" height="1" fill="#ff0000"/>
<rect x="534" y="59" width="11" height="1" fill="#ff0000"/>
<rect x="534" y="68" width="11" height="1" fill="#ff0000"/>
<rect x="534" y="77" width="11" height="1" fill="#ff0000"/>
<rect x="534" y="86" width="11" height="1" fill="#ff0000"/>
<rect x="534" y="94" width="11" height="1" fill="#ff0000"/>
<rect x="534" y="103" width="11" height="1" fill="#ff0000"/>
<rect x="534" y="112" width="11" height="1" fill="#ff0000"/>
<rect x="534" y="121" width="11" height="1" fill="#ff0000"/>
<rect x="534" y="130" width="11" height="1" fill="#ff0000"/>
<rect x="534" y="155" width="11" height="1" fill="#ff0000"/>
<rect x="534" y="171" width="11" height="1" fill="#ff0000"/>
<rect x="534" y="187" width="11" height="1" fill="#ff0000"/>
<rect x="534" y="203" width="11" height="1" fill="#ff0000"/>
<rect x="534" y="219" width="11" height="1" fill="#ff0000"/>
<rect x="534" y="249" width="11" height="1" fill="#ff0000"/>
<rect x="534" y="263" width="11" height="1" fill="#ff0000"/>
<rect x="534" y="277" width="11" height="1" fill="#ff0000"/>
<rect x="534" y="291" width="11" height="1" fill="#ff0000"/>
<rect x="534" y="305" width="11" height="1" fill="#ff0000"/>
<rect x="534" y="319" width="11" height="1" fill="#ff0000"/>
<rect x="534" y="341" width="11" height="1" fill="#ff0000"/>
<rect x="534" y="350" width="11" height="1" fill="#ff0000"/>
<rect x="534" y="359" width="11" height="1" fill="#ff0000"/>
<rect x="534" y="368" width="11" height="1" fill="#ff0000"/>
<rect x="534" y="377" width="11" height="1" fill="#ff0000"/>
<rect x="534" y="385" width="11" height="1" fill="#ff0000"/>
<rect x="534" y="394" width="11" height="1" fill="#ff0000"/>
<rect x="534" y="403" width="11" height="1" fill="#ff0000"/>
<rect x="534" y="412" width="11" height="1" fill="#ff0000"/>
<rect x="534" y="421" width="11" height="1" fill="#ff0000"/>
<rect x="534" y="429" width="11" height="1" fill="#ff0000"/>
<rect x="69" y="39" width="471" height="3" fill="#ff0000"/>
<rect x="69" y="427" width="471" height="3" fill="#ff0000"/>
<rect x="69" y="39" width="3" height="391" fill="#ff0000"/>
<rect x="537" y="39" width="3" height="391" fill="#ff0000"/>
<rect x="107" y="57" width="4" height="4" fill="#00ffff"/>
<rect x="109" y="58" width="4" height="4" fill="#00ffff"/>
<rect x="119" y="57" width="5" height="4" fill="#00ffff"/>
<rect x="130" y="57" width="5" height="4" fill="#00ffff"/>
<rect x="141" y="57" width="5" height="4" fill="#00ffff"/>
<rect x="151" y="57" width="5" height="4" fill="#00ffff"/>
<rect x="164" y="65" width="4" height="4" fill="#00ffff"/>
<rect x="175" y="59" width="4" height="4" fill="#00ffff"/>
<rect x="185" y="66" width="5" height="4" fill="#00ffff"/>
<rect x="195" y="62" width="4" height="4" fill="#00ffff"/>
<rect x="196" y="63" width="4" height="4" fill="#00ffff"/>
<rect x="197" y="57" width="4" height="4" fill="#00ffff"/>
<rect x="207" y="52" width="5" height="4" fill="#00ffff"/>
<rect x="219" y="54" width="4" height="4" fill="#00ffff"/>
<rect x="218" y="57" width="4" height="4" fill="#00ffff"/>
<rect x="229" y="54" width="6" height="4" fill="#00ffff"/>
<rect x="243" y="62" width="4" height="4" fill="#00ffff"/>
<rect x="241" y="63" width="4" height="4" fill="#00ffff"/>
<rect x="252" y="84" width="4" height="4" fill="#00ffff"/>
<rect x="253" y="87" width="4" height="4" fill="#00ffff"/>
<rect x="260" y="115" width="4" height="4" fill="#00ffff"/>
<rect x="263" y="116" width="4" height="4" fill="#00ffff"/>
<rect x="264" y="120" width="4" height="4" fill="#00ffff"/>
<rect x="275" y="123" width="4" height="4" fill="#00ffff"/>
<rect x="274" y="129" width="4" height="4" fill="#00ffff"/>
<rect x="285" y="129" width="4" height="4" fill="#00ffff"/>
<rect x="286" y="130" width="4" height="4" fill="#00ffff"/>
<rect x="297" y="115" width="4" height="4" fill="#00ffff"/>
<rect x="308" y="90" width="4" height="4" fill="#00ffff"/>
<rect x="307" y="96" width="4" height="4" fill="#00ffff"/>
<rect x="319" y="98" width="4" height="4" fill="#00ffff"/>
<rect x="320" y="100" width="4" height="4" fill="#00ffff"/>
<rect x="330" y="123" width="4" height="4" fill="#00ffff"/>
<rect x="343" y="116" width="4" height="4" fill="#00ffff"/>
<rect x="353" y="109" width="4" height="4" fill="#00ffff"/>
<rect x="354" y="108" width="4" height="4" fill="#00ffff"/>
<rect x="364" y="102" width="4" height="4" fill="#00ffff"/>
<rect x="365" y="101" width="4" height="4" fill="#00ffff"/>
<rect x="375" y="99" width="5" height="4" fill="#00ffff"/>
<rect x="386" y="88" width="5" height="4" fill="#00ffff"/>
<rect x="397" y="84" width="5" height="4" fill="#00ffff"/>
<rect x="408" y="87" width="4" height="4" fill="#00ffff"/>
<rect x="409" y="90" width="4" height="4" fill="#00ffff"/>
<rect x="419" y="85" width="5" height="4" fill="#00ffff"/>
<rect x="430" y="80" width="4" height="4" fill="#00ffff"/>
<rect x="431" y="81" width="4" height="4" fill="#00ffff"/>
<rect x="441" y="75" width="5" height="4" fill="#00ffff"/>
<rect x="452" y="75" width="4" height="4" fill="#00ffff"/>
<rect x="459" y="72" width="4" height="4" fill="#00ffff"/>
<rect x="463" y="77" width="4" height="4" fill="#00ffff"/>
<rect x="465" y="83" width="4" height="4" fill="#00ffff"/>
<rect x="476" y="99" width="4" height="4" fill="#00ffff"/>
<rect x="487" y="108" width="4" height="4" fill="#00ffff"/>
<rect x="107" y="171" width="4" height="4" fill="#ffff00"/>
<rect x="109" y="171" width="4" height="4" fill="#ffff00"/>
<rect x="119" y="174" width="4" height="4" fill="#ffff00"/>
<rect x="120" y="173" width="4" height="4" fill="#ffff00"/>
<rect x="130" y="176" width="5" height="4" fill="#ffff00"/>
<rect x="141" y="178" width="5" height="4" fill="#ffff00"/>
<rect x="151" y="180" width="5" height="4" fill="#ffff00"/>
<rect x="164" y="182" width="4" height="4" fill="#ffff00"/>
<rect x="175" y="185" width="4" height="4" fill="#ffff00"/>
<rect x="185" y="187" width="5" height="4" fill="#ffff00"/>
<rect x="195" y="190" width="4" height="4" fill="#ffff00"/>
<rect x="196" y="191" width="4" height="4" fill="#ffff00"/>
<rect x="207" y="195" width="5" height="4" fill="#ffff00"/>
<rect x="218" y="197" width="5" height="4" fill="#ffff00"/>
<rect x="229" y="200" width="6" height="4" fill="#ffff00"/>
<rect x="241" y="202" width="4" height="4" fill="#ffff00"/>
<rect x="243" y="203" width="4" height="4" fill="#ffff00"/>
<rect x="252" y="205" width="5" height="4" fill="#ffff00"/>
<rect x="260" y="207" width="4" height="4" fill="#ffff00"/>
<rect x="264" y="207" width="4" height="4" fill="#ffff00"/>
<rect x="274" y="209" width="5" height="4" fill="#ffff00"/>
<rect x="285" y="212" width="5" height="4" fill="#ffff00"/>
<rect x="297" y="212" width="4" height="4" fill="#ffff00"/>
<rect x="307" y="212" width="5" height="4" fill="#ffff00"/>
<rect x="319" y="211" width="5" height="4" fill="#ffff00"/>
<rect x="330" y="208" width="4" height="4" fill="#ffff00"/>
<rect x="343" y="204" width="4" height="4" fill="#ffff00"/>
<rect x="353" y="201" width="4" height="4" fill="#ffff00"/>
<rect x="354" y="200" width="4" height="4" fill="#ffff00"/>
<rect x="364" y="197" width="4" height="4" fill="#ffff00"/>
<rect x="365" y="196" width="4" height="4" fill="#ffff00"/>
<rect x="375" y="193" width="5" height="4" fill="#ffff00"/>
<rect x="386" y="190" width="4" height="4" fill="#ffff00"/>
<rect x="387" y="189" width="4" height="4" fill="#ffff00"/>
<rect x="397" y="186" width="5" height="4" fill="#ffff00"/>
<rect x="408" y="183" width="5" height="4" fill="#ffff00"/>
<rect x="419" y="163" width="4" height="4" fill="#ffff00"/>
<rect x="420" y="162" width="4" height="4" fill="#ffff00"/>
<rect x="430" y="161" width="5" height="4" fill="#ffff00"/>
<rect x="441" y="159" width="5" height="4" fill="#ffff00"/>
<rect x="452" y="157" width="4" height="4" fill="#ffff00"/>
<rect x="458" y="156" width="5" height="4" fill="#ffff00"/>
<rect x="464" y="155" width="5" height="4" fill="#ffff00"/>
<rect x="476" y="153" width="4" height="4" fill="#ffff00"/>
<rect x="487" y="152" width="4" height="4" fill="#ffff00"/>
<rect x="107" y="391" width="4" height="4" fill="#00ff00"/>
<rect x="109" y="379" width="4" height="4" fill="#00ff00"/>
<rect x="119" y="373" width="4" height="4" fill="#00ff00"/>
<rect x="120" y="386" width="4" height="4" fill="#00ff00"/>
<rect x="130" y="388" width="4" height="4" fill="#00ff00"/>
<rect x="131" y="390" width="4" height="4" fill="#00ff00"/>
<rect x="141" y="386" width="4" height="4" fill="#00ff00"/>
<rect x="142" y="380" width="4" height="4" fill="#00ff00"/>
<rect x="151" y="382" width="4" height="4" fill="#00ff00"/>
<rect x="152" y="377" width="4" height="4" fill="#00ff00"/>
<rect x="164" y="376" width="4" height="4" fill="#00ff00"/>
<rect x="175" y="386" width="4" height="4" fill="#00ff00"/>
<rect x="185" y="375" width="4" height="4" fill="#00ff00"/>
<rect x="186" y="391" width="4" height="4" fill="#00ff00"/>
<rect x="195" y="381" width="4" height="4" fill="#00ff00"/>
<rect x="196" y="378" width="4" height="4" fill="#00ff00"/>
<rect x="197" y="390" width="4" height="4" fill="#00ff00"/>
<rect x="207" y="373" width="4" height="4" fill="#00ff00"/>
<rect x="208" y="374" width="4" height="4" fill="#00ff00"/>
<rect x="218" y="392" width="4" height="4" fill="#00ff00"/>
<rect x="219" y="391" width="4" height="4" fill="#00ff00"/>
<rect x="229" y="375" width="4" height="4" fill="#00ff00"/>
<rect x="231" y="391" width="4" height="4" fill="#00ff00"/>
<rect x="242" y="372" width="4" height="4" fill="#00ff00"/>
<rect x="241" y="373" width="4" height="4" fill="#00ff00"/>
<rect x="243" y="379" width="4" height="4" fill="#00ff00"/>
<rect x="253" y="344" width="4" height="4" fill="#00ff00"/>
<rect x="264" y="360" width="4" height="4" fill="#00ff00"/>
<rect x="252" y="420" width="4" height="4" fill="#00ff00"/>
<rect x="260" y="418" width="4" height="4" fill="#00ff00"/>
<rect x="263" y="425" width="4" height="4" fill="#00ff00"/>
<rect x="262" y="427" width="4" height="4" fill="#00ff00"/>
<rect x="274" y="427" width="4" height="4" fill="#00ff00"/>
<rect x="285" y="427" width="4" height="4" fill="#00ff00"/>
<rect x="286" y="363" width="4" height="4" fill="#00ff00"/>
<rect x="308" y="378" width="4" height="4" fill="#00ff00"/>
<rect x="319" y="386" width="4" height="4" fill="#00ff00"/>
<rect x="307" y="414" width="4" height="4" fill="#00ff00"/>
<rect x="320" y="413" width="4" height="4" fill="#00ff00"/>
<rect x="297" y="427" width="4" height="4" fill="#00ff00"/>
<rect x="330" y="427" width="4" height="4" fill="#00ff00"/>
<rect x="375" y="427" width="4" height="4" fill="#00ff00"/>
<rect x="397" y="427" width="4" height="4" fill="#00ff00"/>
<rect x="420" y="427" width="4" height="4" fill="#00ff00"/>
<rect x="452" y="426" width="4" height="4" fill="#00ff00"/>
<rect x="398" y="404" width="4" height="4" fill="#00ff00"/>
<rect x="430" y="360" width="4" height="4" fill="#00ff00"/>
<rect x="441" y="369" width="4" height="4" fill="#00ff00"/>
<rect x="463" y="366" width="4" height="4" fill="#00ff00"/>
<rect x="476" y="362" width="4" height="4" fill="#00ff00"/>
<rect x="465" y="414" width="4" height="4" fill="#00ff00"/>
<rect x="459" y="417" width="4" height="4" fill="#00ff00"/>
<path d="M121.90,291.25 L110.25,300.60 M110.25,300.60 L116.54,300.96 M110.25,300.60 L111.26,294.38 M122.60,292.10 L111.00,301.40 M111.00,301.40 L117.29,301.76 M111.00,301.40 L112.02,295.18 M142.90,287.10 L131.25,292.50 M131.25,292.50 L137.27,294.36 M131.25,292.50 L133.72,286.71 M132.50,294.40 L122.25,302.50 M122.25,302.50 L128.54,302.90 M122.25,302.50 L123.31,296.29 M108.75,305.60 L98.50,311.90 M98.50,311.90 L104.70,313.04 M98.50,311.90 L100.28,305.86 M110.60,312.50 L100.60,318.75 M100.60,318.75 L106.80,319.84 M100.60,318.75 L102.34,312.69 M166.00,294.40 L153.10,297.75 M153.10,297.75 L158.69,300.65 M153.10,297.75 L156.57,292.49 M153.75,301.25 L142.50,305.60 M142.50,305.60 L148.39,307.84 M142.50,305.60 L145.35,299.98 M143.10,306.25 L131.50,308.50 M131.50,308.50 L136.90,311.75 M131.50,308.50 L135.29,303.47 M153.10,308.75 L141.25,314.00 M141.25,314.00 L147.24,315.96 M141.25,314.00 L143.82,308.25 M176.90,280.25 L164.40,283.75 M164.40,283.75 L170.05,286.55 M164.40,283.75 L167.77,278.43 M187.75,294.60 L176.00,296.25 M176.00,296.25 L181.22,299.77 M176.00,296.25 L180.05,291.42 M187.50,298.50 L174.75,300.60 M174.75,300.60 L180.05,304.00 M174.75,300.60 L178.68,295.68 M196.90,301.25 L184.75,302.50 M184.75,302.50 L189.84,306.21 M184.75,302.50 L188.98,297.83 M210.00,277.25 L197.50,279.40 M197.50,279.40 L202.83,282.76 M197.50,279.40 L201.40,274.45 M208.75,284.40 L196.60,286.90 M196.60,286.90 L202.04,290.09 M196.60,286.90 L200.34,281.83 M198.50,285.60 L198.50,299.75 M198.50,299.75 L202.72,295.07 M198.50,299.75 L194.28,295.07 M197.50,308.10 L197.50,320.60 M197.50,320.60 L201.72,315.92 M197.50,320.60 L193.28,315.92 M221.00,314.40 L208.50,311.50 M208.50,311.50 L212.11,316.66 M208.50,311.50 L214.01,308.45 M219.75,319.40 L207.50,316.00 M207.50,316.00 L210.88,321.31 M207.50,316.00 L213.14,313.19 M243.75,287.75 L232.50,285.00 M232.50,285.00 L236.05,290.21 M232.50,285.00 L238.05,282.02 M254.75,284.60 L242.75,281.90 M242.75,281.90 L246.39,287.04 M242.75,281.90 L248.24,278.82 M243.10,294.75 L231.25,291.90 M231.25,291.90 L234.82,297.09 M231.25,291.90 L236.79,288.90 M235.00,291.90 L218.50,289.40 M218.50,289.40 L222.50,294.27 M218.50,289.40 L223.76,285.93 M232.50,295.00 L220.60,293.10 M220.60,293.10 L224.56,298.00 M220.60,293.10 L225.89,289.68 M244.00,308.50 L231.50,305.60 M231.50,305.60 L235.11,310.76 M231.50,305.60 L237.01,302.55 M262.50,297.75 L249.75,294.40 M249.75,294.40 L253.21,299.67 M249.75,294.40 L255.35,291.51 M265.00,300.60 L252.25,296.50 M252.25,296.50 L255.42,301.95 M252.25,296.50 L258.00,293.92 M275.60,305.25 L263.10,305.25 M263.10,305.25 L267.78,309.47 M263.10,305.25 L267.78,301.03 M276.00,298.10 L263.75,301.90 M263.75,301.90 L269.47,304.54 M263.75,301.90 L266.97,296.49 M290.00,301.25 L276.00,298.10 M276.00,298.10 L279.64,303.24 M276.00,298.10 L281.49,295.02 M253.75,290.40 L242.75,286.90 M242.75,286.90 L245.93,292.34 M242.75,286.90 L248.49,284.30 M298.75,305.25 L285.60,302.00 M285.60,302.00 L289.13,307.22 M285.60,302.00 L291.16,299.03 M308.50,312.50 L308.50,325.00 M308.50,325.00 L312.72,320.32 M308.50,325.00 L304.28,320.32 M309.50,312.50 L309.50,325.00 M309.50,325.00 L313.72,320.32 M309.50,325.00 L305.28,320.32 M320.80,319.40 L311.60,328.60 M311.60,328.60 L317.89,328.27 M311.60,328.60 L311.93,322.31 M322.00,321.20 L312.60,329.40 M312.60,329.40 L318.90,329.50 M312.60,329.40 L313.36,323.15 M331.90,305.00 L320.25,311.00 M320.25,311.00 L326.34,312.60 M320.25,311.00 L322.48,305.11 M345.00,297.50 L335.25,306.25 M335.25,306.25 L341.55,306.26 M335.25,306.25 L335.92,299.99 M366.00,277.25 L355.00,284.40 M355.00,284.40 L361.22,285.38 M355.00,284.40 L356.63,278.31 M355.00,284.75 L344.75,290.00 M344.75,290.00 L350.84,291.62 M344.75,290.00 L347.00,284.11 M366.90,287.50 L357.50,295.25 M357.50,295.25 L363.79,295.52 M357.50,295.25 L358.43,289.02 M355.00,291.50 L344.75,298.10 M344.75,298.10 L350.97,299.11 M344.75,298.10 L346.40,292.02 M377.25,298.50 L367.50,307.50 M367.50,307.50 L373.80,307.42 M367.50,307.50 L368.08,301.23 M378.00,299.40 L368.30,308.30 M368.30,308.30 L374.60,308.24 M368.30,308.30 L368.90,302.03 M388.75,298.10 L376.90,303.10 M376.90,303.10 L382.85,305.16 M376.90,303.10 L379.57,297.40 M399.00,293.10 L390.25,298.75 M390.25,298.75 L396.47,299.75 M390.25,298.75 L391.90,292.67 M399.00,301.25 L389.75,309.00 M389.75,309.00 L396.05,309.22 M389.75,309.00 L390.63,302.76 M410.00,291.50 L397.50,294.00 M397.50,294.00 L402.92,297.22 M397.50,294.00 L401.26,288.95 M411.00,294.75 L398.10,297.25 M398.10,297.25 L403.50,300.50 M398.10,297.25 L401.89,292.22 M421.50,305.25 L409.40,308.75 M409.40,308.75 L415.07,311.50 M409.40,308.75 L412.73,303.40 M442.90,284.40 L430.60,286.50 M430.60,286.50 L435.92,289.87 M430.60,286.50 L434.51,281.56 M443.75,291.50 L431.50,294.00 M431.50,294.00 L436.93,297.19 M431.50,294.00 L435.24,288.93 M431.90,295.00 L420.00,297.50 M420.00,297.50 L425.45,300.66 M420.00,297.50 L423.72,292.41 M431.90,298.50 L419.75,298.50 M419.75,298.50 L424.43,302.72 M419.75,298.50 L424.43,294.28 M465.00,256.25 L452.25,259.75 M452.25,259.75 L457.88,262.58 M452.25,259.75 L455.65,254.45 M461.00,266.50 L450.00,271.90 M450.00,271.90 L456.06,273.62 M450.00,271.90 L452.35,266.05 M466.90,270.25 L453.75,273.50 M453.75,273.50 L459.31,276.47 M453.75,273.50 L457.28,268.28 M453.75,273.75 L441.25,276.50 M441.25,276.50 L446.73,279.61 M441.25,276.50 L444.92,271.38 M489.00,277.25 L478.10,284.00 M478.10,284.00 L484.30,285.12 M478.10,284.00 L479.86,277.95 M478.10,284.00 L465.25,286.50 M465.25,286.50 L470.65,289.74 M465.25,286.50 L469.04,281.47" fill="none" stroke="#ffff00" stroke-width="1"/>
<path d="M257.3,295 L259.9,289.3 L263,297.2 M259.9,289.3 L262.5,290.7 M256.9,295.3 L256.9,301 M253.2,298 L253.6,302.5 M284,305 L284.5,309.3 L287,308 L289,304 L290.5,300.5 M286.4,298.3 L287,302.6 L289.5,307.5" fill="none" stroke="#ffff00" stroke-width="1"/>
<path d="M86.50,14.50 L89.50,14.50 L90.50,15.50 L90.50,17.50 L89.50,18.50 L86.50,18.50 L85.50,17.50 L85.50,15.50 Z M86.50,18.50 L85.50,19.50 L85.50,21.50 L86.50,22.50 L89.50,22.50 L90.50,21.50 L90.50,19.50 L89.50,18.50 M93.50,21.50 L94.50,22.50 L97.50,22.50 L98.50,21.50 L98.50,15.50 L97.50,14.50 L94.50,14.50 L93.50,15.50 L93.50,17.50 L94.50,18.50 L98.50,18.50 M101.50,15.50 L102.50,14.50 L105.50,14.50 L106.50,15.50 L106.50,17.50 L105.50,18.50 L103.50,18.50 M105.50,18.50 L106.50,19.50 L106.50,21.50 L105.50,22.50 L102.50,22.50 L101.50,21.50 M110.50,16.50 L112.50,14.50 L112.50,22.50 M110.50,22.50 L114.50,22.50" fill="none" stroke="#ffff00" stroke-width="1" stroke-linecap="square"/>
<path d="M270.50,14.50 L273.50,14.50 L274.50,15.50 L274.50,17.50 L273.50,18.50 L270.50,18.50 L269.50,17.50 L269.50,15.50 Z M270.50,18.50 L269.50,19.50 L269.50,21.50 L270.50,22.50 L273.50,22.50 L274.50,21.50 L274.50,19.50 L273.50,18.50 M277.50,15.50 L278.50,14.50 L281.50,14.50 L282.50,15.50 L282.50,17.50 L281.50,18.50 L279.50,18.50 M281.50,18.50 L282.50,19.50 L282.50,21.50 L281.50,22.50 L278.50,22.50 L277.50,21.50 M294.50,14.50 L297.50,14.50 L298.50,15.50 L298.50,17.50 L297.50,18.50 L294.50,18.50 L293.50,17.50 L293.50,15.50 Z M294.50,18.50 L293.50,19.50 L293.50,21.50 L294.50,22.50 L297.50,22.50 L298.50,21.50 L298.50,19.50 L297.50,18.50 M301.50,21.50 L302.50,22.50 L305.50,22.50 L306.50,21.50 L306.50,15.50 L305.50,14.50 L302.50,14.50 L301.50,15.50 L301.50,17.50 L302.50,18.50 L306.50,18.50 M314.50,15.50 L313.50,14.50 L310.50,14.50 L309.50,15.50 L309.50,17.50 L310.50,18.50 L313.50,18.50 L314.50,19.50 L314.50,21.50 L313.50,22.50 L310.50,22.50 L309.50,21.50" fill="none" stroke="#ffff00" stroke-width="1" stroke-linecap="square"/><rect x="285" y="21" width="2" height="2" fill="#ffff00"/>
<path d="M334.50,16.50 L336.50,14.50 L336.50,22.50 M334.50,22.50 L338.50,22.50 M341.50,15.50 L342.50,14.50 L345.50,14.50 L346.50,15.50 L346.50,17.50 L345.50,18.50 L343.50,18.50 M345.50,18.50 L346.50,19.50 L346.50,21.50 L345.50,22.50 L342.50,22.50 L341.50,21.50 M353.50,22.50 L353.50,14.50 L349.50,19.50 L349.50,20.50 L354.50,20.50 M366.50,16.50 L368.50,14.50 L368.50,22.50 M366.50,22.50 L370.50,22.50 M378.50,14.50 L373.50,14.50 L373.50,17.50 L377.50,17.50 L378.50,18.50 L378.50,21.50 L377.50,22.50 L374.50,22.50 L373.50,21.50 M381.50,14.50 L381.50,22.50 L384.00,19.50 L386.50,22.50 L386.50,14.50" fill="none" stroke="#ffff00" stroke-width="1" stroke-linecap="square"/><rect x="357" y="21" width="2" height="2" fill="#ffff00"/>
<path d="M418.50,14.50 L413.50,14.50 L413.50,17.50 L417.50,17.50 L418.50,18.50 L418.50,21.50 L417.50,22.50 L414.50,22.50 L413.50,21.50 M421.50,15.50 L422.50,14.50 L425.50,14.50 L426.50,15.50 L426.50,17.50 L421.50,21.50 L421.50,22.50 L426.50,22.50 M434.50,14.50 L429.50,14.50 L429.50,17.50 L433.50,17.50 L434.50,18.50 L434.50,21.50 L433.50,22.50 L430.50,22.50 L429.50,21.50 M437.50,22.50 L437.50,14.50 L440.00,17.50 L442.50,14.50 L442.50,22.50" fill="none" stroke="#ffff00" stroke-width="1" stroke-linecap="square"/>
<path d="M70.50,27.50 L73.50,27.50 L74.50,28.50 L74.50,34.50 L73.50,35.50 L70.50,35.50 L69.50,34.50 L69.50,28.50 Z M77.50,27.50 L82.50,27.50 L82.50,28.50 L79.50,34.50 L79.50,35.50 M93.50,35.50 L93.50,27.50 L96.00,30.50 L98.50,27.50 L98.50,35.50 M102.50,30.50 L104.50,30.50 L105.50,31.50 L105.50,34.50 L104.50,35.50 L102.50,35.50 L101.50,34.50 L101.50,31.50 Z M105.50,34.50 L106.50,35.50 M109.50,30.50 L109.50,35.50 M109.50,32.00 L111.50,30.50 L113.50,30.50 L114.50,31.50 M125.50,28.50 L126.50,27.50 L129.50,27.50 L130.50,28.50 L130.50,30.50 L125.50,34.50 L125.50,35.50 L130.50,35.50 M134.50,27.50 L137.50,27.50 L138.50,28.50 L138.50,34.50 L137.50,35.50 L134.50,35.50 L133.50,34.50 L133.50,28.50 Z M142.50,29.50 L144.50,27.50 L144.50,35.50 M142.50,35.50 L146.50,35.50 M154.50,27.50 L149.50,27.50 L149.50,30.50 L153.50,30.50 L154.50,31.50 L154.50,34.50 L153.50,35.50 L150.50,35.50 L149.50,34.50 M157.50,35.50 L162.50,27.50 M166.50,29.50 L168.50,27.50 L168.50,35.50 M166.50,35.50 L170.50,35.50 M173.50,28.50 L174.50,27.50 L177.50,27.50 L178.50,28.50 L178.50,30.50 L173.50,34.50 L173.50,35.50 L178.50,35.50 M182.50,27.50 L185.50,27.50 L186.50,28.50 L186.50,34.50 L185.50,35.50 L182.50,35.50 L181.50,34.50 L181.50,28.50 Z M190.50,27.50 L193.50,27.50 L194.50,28.50 L194.50,34.50 L193.50,35.50 L190.50,35.50 L189.50,34.50 L189.50,28.50 Z M198.50,27.50 L201.50,27.50 L202.50,28.50 L202.50,34.50 L201.50,35.50 L198.50,35.50 L197.50,34.50 L197.50,28.50 Z M206.50,27.50 L209.50,27.50 L210.50,28.50 L210.50,34.50 L209.50,35.50 L206.50,35.50 L205.50,34.50 L205.50,28.50 Z M213.50,27.50 L213.50,34.50 L214.50,35.50 L217.50,35.50 L218.50,34.50 L218.50,27.50 M221.50,27.50 L227.50,27.50 M224.50,27.50 L224.50,35.50 M234.50,28.50 L233.50,27.50 L230.50,27.50 L229.50,28.50 L229.50,34.50 L230.50,35.50 L233.50,35.50 L234.50,34.50 M245.50,31.50 L250.50,31.50 M262.50,29.50 L264.50,27.50 L264.50,35.50 M262.50,35.50 L266.50,35.50 M270.50,27.50 L273.50,27.50 L274.50,28.50 L274.50,34.50 L273.50,35.50 L270.50,35.50 L269.50,34.50 L269.50,28.50 Z M285.50,35.50 L285.50,27.50 L288.00,30.50 L290.50,27.50 L290.50,35.50 M294.50,30.50 L296.50,30.50 L297.50,31.50 L297.50,34.50 L296.50,35.50 L294.50,35.50 L293.50,34.50 L293.50,31.50 Z M297.50,34.50 L298.50,35.50 M301.50,30.50 L301.50,35.50 M301.50,32.00 L303.50,30.50 L305.50,30.50 L306.50,31.50 M317.50,28.50 L318.50,27.50 L321.50,27.50 L322.50,28.50 L322.50,30.50 L317.50,34.50 L317.50,35.50 L322.50,35.50 M326.50,27.50 L329.50,27.50 L330.50,28.50 L330.50,34.50 L329.50,35.50 L326.50,35.50 L325.50,34.50 L325.50,28.50 Z M334.50,29.50 L336.50,27.50 L336.50,35.50 M334.50,35.50 L338.50,35.50 M346.50,27.50 L341.50,27.50 L341.50,30.50 L345.50,30.50 L346.50,31.50 L346.50,34.50 L345.50,35.50 L342.50,35.50 L341.50,34.50 M349.50,35.50 L354.50,27.50 M358.50,27.50 L361.50,27.50 L362.50,28.50 L362.50,34.50 L361.50,35.50 L358.50,35.50 L357.50,34.50 L357.50,28.50 Z M366.50,27.50 L369.50,27.50 L370.50,28.50 L370.50,34.50 L369.50,35.50 L366.50,35.50 L365.50,34.50 L365.50,28.50 Z M374.50,27.50 L377.50,27.50 L378.50,28.50 L378.50,34.50 L377.50,35.50 L374.50,35.50 L373.50,34.50 L373.50,28.50 Z M382.50,27.50 L385.50,27.50 L386.50,28.50 L386.50,34.50 L385.50,35.50 L382.50,35.50 L381.50,34.50 L381.50,28.50 Z M390.50,27.50 L393.50,27.50 L394.50,28.50 L394.50,34.50 L393.50,35.50 L390.50,35.50 L389.50,34.50 L389.50,28.50 Z M398.50,27.50 L401.50,27.50 L402.50,28.50 L402.50,34.50 L401.50,35.50 L398.50,35.50 L397.50,34.50 L397.50,28.50 Z M405.50,27.50 L405.50,34.50 L406.50,35.50 L409.50,35.50 L410.50,34.50 L410.50,27.50 M413.50,27.50 L419.50,27.50 M416.50,27.50 L416.50,35.50 M426.50,28.50 L425.50,27.50 L422.50,27.50 L421.50,28.50 L421.50,34.50 L422.50,35.50 L425.50,35.50 L426.50,34.50" fill="none" stroke="#ffff00" stroke-width="1" stroke-linecap="square"/>
<path d="M62.50,439.50 L65.50,439.50 L66.50,440.50 L66.50,446.50 L65.50,447.50 L62.50,447.50 L61.50,446.50 L61.50,440.50 Z M74.50,440.50 L73.50,439.50 L70.50,439.50 L69.50,440.50 L69.50,446.50 L70.50,447.50 L73.50,447.50 L74.50,446.50 L74.50,444.50 L73.50,443.50 L69.50,443.50" fill="none" stroke="#ffff00" stroke-width="1" stroke-linecap="square"/>
<path d="M101.50,441.50 L103.50,439.50 L103.50,447.50 M101.50,447.50 L105.50,447.50 M108.50,440.50 L109.50,439.50 L112.50,439.50 L113.50,440.50 L113.50,442.50 L108.50,446.50 L108.50,447.50 L113.50,447.50" fill="none" stroke="#ffff00" stroke-width="1" stroke-linecap="square"/>
<path d="M140.50,441.50 L142.50,439.50 L142.50,447.50 M140.50,447.50 L144.50,447.50 M148.50,439.50 L151.50,439.50 L152.50,440.50 L152.50,442.50 L151.50,443.50 L148.50,443.50 L147.50,442.50 L147.50,440.50 Z M148.50,443.50 L147.50,444.50 L147.50,446.50 L148.50,447.50 L151.50,447.50 L152.50,446.50 L152.50,444.50 L151.50,443.50" fill="none" stroke="#ffff00" stroke-width="1" stroke-linecap="square"/>
<path d="M179.50,439.50 L182.50,439.50 L183.50,440.50 L183.50,446.50 L182.50,447.50 L179.50,447.50 L178.50,446.50 L178.50,440.50 Z M187.50,439.50 L190.50,439.50 L191.50,440.50 L191.50,446.50 L190.50,447.50 L187.50,447.50 L186.50,446.50 L186.50,440.50 Z" fill="none" stroke="#ffff00" stroke-width="1" stroke-linecap="square"/>
<path d="M218.50,439.50 L221.50,439.50 L222.50,440.50 L222.50,446.50 L221.50,447.50 L218.50,447.50 L217.50,446.50 L217.50,440.50 Z M230.50,440.50 L229.50,439.50 L226.50,439.50 L225.50,440.50 L225.50,446.50 L226.50,447.50 L229.50,447.50 L230.50,446.50 L230.50,444.50 L229.50,443.50 L225.50,443.50" fill="none" stroke="#ffff00" stroke-width="1" stroke-linecap="square"/>
<path d="M258.50,441.50 L260.50,439.50 L260.50,447.50 M258.50,447.50 L262.50,447.50 M265.50,440.50 L266.50,439.50 L269.50,439.50 L270.50,440.50 L270.50,442.50 L265.50,446.50 L265.50,447.50 L270.50,447.50" fill="none" stroke="#ffff00" stroke-width="1" stroke-linecap="square"/>
<path d="M297.50,441.50 L299.50,439.50 L299.50,447.50 M297.50,447.50 L301.50,447.50 M305.50,439.50 L308.50,439.50 L309.50,440.50 L309.50,442.50 L308.50,443.50 L305.50,443.50 L304.50,442.50 L304.50,440.50 Z M305.50,443.50 L304.50,444.50 L304.50,446.50 L305.50,447.50 L308.50,447.50 L309.50,446.50 L309.50,444.50 L308.50,443.50" fill="none" stroke="#ffff00" stroke-width="1" stroke-linecap="square"/>
<path d="M336.50,439.50 L339.50,439.50 L340.50,440.50 L340.50,446.50 L339.50,447.50 L336.50,447.50 L335.50,446.50 L335.50,440.50 Z M344.50,439.50 L347.50,439.50 L348.50,440.50 L348.50,446.50 L347.50,447.50 L344.50,447.50 L343.50,446.50 L343.50,440.50 Z" fill="none" stroke="#ffff00" stroke-width="1" stroke-linecap="square"/>
<path d="M375.50,439.50 L378.50,439.50 L379.50,440.50 L379.50,446.50 L378.50,447.50 L375.50,447.50 L374.50,446.50 L374.50,440.50 Z M387.50,440.50 L386.50,439.50 L383.50,439.50 L382.50,440.50 L382.50,446.50 L383.50,447.50 L386.50,447.50 L387.50,446.50 L387.50,444.50 L386.50,443.50 L382.50,443.50" fill="none" stroke="#ffff00" stroke-width="1" stroke-linecap="square"/>
<path d="M414.50,441.50 L416.50,439.50 L416.50,447.50 M414.50,447.50 L418.50,447.50 M421.50,440.50 L422.50,439.50 L425.50,439.50 L426.50,440.50 L426.50,442.50 L421.50,446.50 L421.50,447.50 L426.50,447.50" fill="none" stroke="#ffff00" stroke-width="1" stroke-linecap="square"/>
<path d="M454.50,441.50 L456.50,439.50 L456.50,447.50 M454.50,447.50 L458.50,447.50 M462.50,439.50 L465.50,439.50 L466.50,440.50 L466.50,442.50 L465.50,443.50 L462.50,443.50 L461.50,442.50 L461.50,440.50 Z M462.50,443.50 L461.50,444.50 L461.50,446.50 L462.50,447.50 L465.50,447.50 L466.50,446.50 L466.50,444.50 L465.50,443.50" fill="none" stroke="#ffff00" stroke-width="1" stroke-linecap="square"/>
<path d="M493.50,439.50 L496.50,439.50 L497.50,440.50 L497.50,446.50 L496.50,447.50 L493.50,447.50 L492.50,446.50 L492.50,440.50 Z M501.50,439.50 L504.50,439.50 L505.50,440.50 L505.50,446.50 L504.50,447.50 L501.50,447.50 L500.50,446.50 L500.50,440.50 Z" fill="none" stroke="#ffff00" stroke-width="1" stroke-linecap="square"/>
<path d="M532.50,439.50 L535.50,439.50 L536.50,440.50 L536.50,446.50 L535.50,447.50 L532.50,447.50 L531.50,446.50 L531.50,440.50 Z M544.50,440.50 L543.50,439.50 L540.50,439.50 L539.50,440.50 L539.50,446.50 L540.50,447.50 L543.50,447.50 L544.50,446.50 L544.50,444.50 L543.50,443.50 L539.50,443.50" fill="none" stroke="#ffff00" stroke-width="1" stroke-linecap="square"/>
<path d="M163.50,452.50 L166.50,452.50 L167.50,453.50 L167.50,459.50 L166.50,460.50 L163.50,460.50 L162.50,459.50 L162.50,453.50 Z M171.50,452.50 L174.50,452.50 L175.50,453.50 L175.50,455.50 L174.50,456.50 L171.50,456.50 L170.50,455.50 L170.50,453.50 Z M171.50,456.50 L170.50,457.50 L170.50,459.50 L171.50,460.50 L174.50,460.50 L175.50,459.50 L175.50,457.50 L174.50,456.50 M186.50,460.50 L186.50,452.50 L189.00,455.50 L191.50,452.50 L191.50,460.50 M195.50,455.50 L197.50,455.50 L198.50,456.50 L198.50,459.50 L197.50,460.50 L195.50,460.50 L194.50,459.50 L194.50,456.50 Z M198.50,459.50 L199.50,460.50 M202.50,455.50 L202.50,460.50 M202.50,457.00 L204.50,455.50 L206.50,455.50 L207.50,456.50" fill="none" stroke="#ffff00" stroke-width="1" stroke-linecap="square"/>
<path d="M320.50,452.50 L323.50,452.50 L324.50,453.50 L324.50,459.50 L323.50,460.50 L320.50,460.50 L319.50,459.50 L319.50,453.50 Z M327.50,459.50 L328.50,460.50 L331.50,460.50 L332.50,459.50 L332.50,453.50 L331.50,452.50 L328.50,452.50 L327.50,453.50 L327.50,455.50 L328.50,456.50 L332.50,456.50 M343.50,460.50 L343.50,452.50 L346.00,455.50 L348.50,452.50 L348.50,460.50 M352.50,455.50 L354.50,455.50 L355.50,456.50 L355.50,459.50 L354.50,460.50 L352.50,460.50 L351.50,459.50 L351.50,456.50 Z M355.50,459.50 L356.50,460.50 M359.50,455.50 L359.50,460.50 M359.50,457.00 L361.50,455.50 L363.50,455.50 L364.50,456.50" fill="none" stroke="#ffff00" stroke-width="1" stroke-linecap="square"/>
<path d="M477.50,454.50 L479.50,452.50 L479.50,460.50 M477.50,460.50 L481.50,460.50 M485.50,452.50 L488.50,452.50 L489.50,453.50 L489.50,459.50 L488.50,460.50 L485.50,460.50 L484.50,459.50 L484.50,453.50 Z M500.50,460.50 L500.50,452.50 L503.00,455.50 L505.50,452.50 L505.50,460.50 M509.50,455.50 L511.50,455.50 L512.50,456.50 L512.50,459.50 L511.50,460.50 L509.50,460.50 L508.50,459.50 L508.50,456.50 Z M512.50,459.50 L513.50,460.50 M516.50,455.50 L516.50,460.50 M516.50,457.00 L518.50,455.50 L520.50,455.50 L521.50,456.50" fill="none" stroke="#ffff00" stroke-width="1" stroke-linecap="square"/>
<path d="M16.50,471.38 L17.50,470.50 L20.50,470.50 L21.50,471.38 L21.50,473.12 L16.50,476.62 L16.50,477.50 L21.50,477.50" fill="none" stroke="#ffff00" stroke-width="1" stroke-linecap="square"/>
<path d="M554.50,50.50 L558.50,50.50 M561.30,49.00 L562.90,47.50 L562.90,53.50 M561.30,53.50 L564.50,53.50 M566.50,52.50 L567.50,53.50 L569.50,53.50 L570.50,52.50 L570.50,48.50 L569.50,47.50 L567.50,47.50 L566.50,48.50 L566.50,49.50 L567.50,50.50 L570.50,50.50 M579.50,47.50 L581.50,47.50 L582.50,48.50 L582.50,52.50 L581.50,53.50 L579.50,53.50 L578.50,52.50 L578.50,48.50 Z" fill="none" stroke="#ff0000" stroke-width="1" stroke-linecap="square" /><rect x="572" y="52" width="2" height="2" fill="#ff0000"/>
<path d="M554.50,59.50 L558.50,59.50 M560.50,57.50 L561.50,56.50 L563.50,56.50 L564.50,57.50 L564.50,58.50 L560.50,62.50 L564.50,62.50 M567.50,56.50 L569.50,56.50 L570.50,57.50 L570.50,61.50 L569.50,62.50 L567.50,62.50 L566.50,61.50 L566.50,57.50 Z M579.50,56.50 L581.50,56.50 L582.50,57.50 L582.50,61.50 L581.50,62.50 L579.50,62.50 L578.50,61.50 L578.50,57.50 Z" fill="none" stroke="#ff0000" stroke-width="1" stroke-linecap="square" /><rect x="572" y="61" width="2" height="2" fill="#ff0000"/>
<path d="M554.50,68.50 L558.50,68.50 M560.50,66.50 L561.50,65.50 L563.50,65.50 L564.50,66.50 L564.50,67.50 L560.50,71.50 L564.50,71.50 M567.30,67.00 L568.90,65.50 L568.90,71.50 M567.30,71.50 L570.50,71.50 M579.50,65.50 L581.50,65.50 L582.50,66.50 L582.50,70.50 L581.50,71.50 L579.50,71.50 L578.50,70.50 L578.50,66.50 Z" fill="none" stroke="#ff0000" stroke-width="1" stroke-linecap="square" /><rect x="572" y="70" width="2" height="2" fill="#ff0000"/>
<path d="M554.50,77.50 L558.50,77.50 M560.50,75.50 L561.50,74.50 L563.50,74.50 L564.50,75.50 L564.50,76.50 L560.50,80.50 L564.50,80.50 M566.50,75.50 L567.50,74.50 L569.50,74.50 L570.50,75.50 L570.50,76.50 L566.50,80.50 L570.50,80.50 M579.50,74.50 L581.50,74.50 L582.50,75.50 L582.50,79.50 L581.50,80.50 L579.50,80.50 L578.50,79.50 L578.50,75.50 Z" fill="none" stroke="#ff0000" stroke-width="1" stroke-linecap="square" /><rect x="572" y="79" width="2" height="2" fill="#ff0000"/>
<path d="M554.50,86.50 L558.50,86.50 M560.50,84.50 L561.50,83.50 L563.50,83.50 L564.50,84.50 L564.50,85.50 L560.50,89.50 L564.50,89.50 M566.50,84.50 L567.50,83.50 L569.50,83.50 L570.50,84.50 L570.50,85.50 L569.50,86.50 L568.00,86.50 M569.50,86.50 L570.50,87.50 L570.50,88.50 L569.50,89.50 L567.50,89.50 L566.50,88.50 M579.50,83.50 L581.50,83.50 L582.50,84.50 L582.50,88.50 L581.50,89.50 L579.50,89.50 L578.50,88.50 L578.50,84.50 Z" fill="none" stroke="#ff0000" stroke-width="1" stroke-linecap="square" /><rect x="572" y="88" width="2" height="2" fill="#ff0000"/>
<path d="M554.50,94.50 L558.50,94.50 M560.50,92.50 L561.50,91.50 L563.50,91.50 L564.50,92.50 L564.50,93.50 L560.50,97.50 L564.50,97.50 M569.70,97.50 L569.70,91.50 L566.50,95.50 L570.50,95.50 M579.50,91.50 L581.50,91.50 L582.50,92.50 L582.50,96.50 L581.50,97.50 L579.50,97.50 L578.50,96.50 L578.50,92.50 Z" fill="none" stroke="#ff0000" stroke-width="1" stroke-linecap="square" /><rect x="572" y="96" width="2" height="2" fill="#ff0000"/>
<path d="M554.50,103.50 L558.50,103.50 M560.50,101.50 L561.50,100.50 L563.50,100.50 L564.50,101.50 L564.50,102.50 L560.50,106.50 L564.50,106.50 M570.50,100.50 L566.50,100.50 L566.50,103.00 L569.50,103.00 L570.50,104.00 L570.50,105.50 L569.50,106.50 L567.50,106.50 L566.50,105.50 M579.50,100.50 L581.50,100.50 L582.50,101.50 L582.50,105.50 L581.50,106.50 L579.50,106.50 L578.50,105.50 L578.50,101.50 Z" fill="none" stroke="#ff0000" stroke-width="1" stroke-linecap="square" /><rect x="572" y="105" width="2" height="2" fill="#ff0000"/>
<path d="M554.50,112.50 L558.50,112.50 M560.50,110.50 L561.50,109.50 L563.50,109.50 L564.50,110.50 L564.50,111.50 L560.50,115.50 L564.50,115.50 M570.50,110.50 L569.50,109.50 L567.50,109.50 L566.50,110.50 L566.50,114.50 L567.50,115.50 L569.50,115.50 L570.50,114.50 L570.50,113.50 L569.50,112.50 L566.50,112.50 M579.50,109.50 L581.50,109.50 L582.50,110.50 L582.50,114.50 L581.50,115.50 L579.50,115.50 L578.50,114.50 L578.50,110.50 Z" fill="none" stroke="#ff0000" stroke-width="1" stroke-linecap="square" /><rect x="572" y="114" width="2" height="2" fill="#ff0000"/>
<path d="M554.50,121.50 L558.50,121.50 M560.50,119.50 L561.50,118.50 L563.50,118.50 L564.50,119.50 L564.50,120.50 L560.50,124.50 L564.50,124.50 M566.50,118.50 L570.50,118.50 L570.50,119.50 L568.00,124.50 M579.50,118.50 L581.50,118.50 L582.50,119.50 L582.50,123.50 L581.50,124.50 L579.50,124.50 L578.50,123.50 L578.50,119.50 Z" fill="none" stroke="#ff0000" stroke-width="1" stroke-linecap="square" /><rect x="572" y="123" width="2" height="2" fill="#ff0000"/>
<path d="M554.50,130.50 L558.50,130.50 M560.50,128.50 L561.50,127.50 L563.50,127.50 L564.50,128.50 L564.50,129.50 L560.50,133.50 L564.50,133.50 M567.50,127.50 L569.50,127.50 L570.50,128.50 L570.50,129.50 L569.50,130.50 L567.50,130.50 L566.50,129.50 L566.50,128.50 Z M567.50,130.50 L566.50,131.50 L566.50,132.50 L567.50,133.50 L569.50,133.50 L570.50,132.50 L570.50,131.50 L569.50,130.50 M579.50,127.50 L581.50,127.50 L582.50,128.50 L582.50,132.50 L581.50,133.50 L579.50,133.50 L578.50,132.50 L578.50,128.50 Z" fill="none" stroke="#ff0000" stroke-width="1" stroke-linecap="square" /><rect x="572" y="132" width="2" height="2" fill="#ff0000"/>
<path d="M554.50,138.50 L558.50,138.50 M560.50,136.50 L561.50,135.50 L563.50,135.50 L564.50,136.50 L564.50,137.50 L560.50,141.50 L564.50,141.50 M566.50,140.50 L567.50,141.50 L569.50,141.50 L570.50,140.50 L570.50,136.50 L569.50,135.50 L567.50,135.50 L566.50,136.50 L566.50,137.50 L567.50,138.50 L570.50,138.50 M579.50,135.50 L581.50,135.50 L582.50,136.50 L582.50,140.50 L581.50,141.50 L579.50,141.50 L578.50,140.50 L578.50,136.50 Z" fill="none" stroke="#ff0000" stroke-width="1" stroke-linecap="square" /><rect x="572" y="140" width="2" height="2" fill="#ff0000"/>
<path d="M554.50,157.50 L555.50,158.50 L557.50,158.50 L558.50,157.50 L558.50,153.50 L557.50,152.50 L555.50,152.50 L554.50,153.50 L554.50,154.50 L555.50,155.50 L558.50,155.50 M560.50,153.50 L561.50,152.50 L563.50,152.50 L564.50,153.50 L564.50,154.50 L563.50,155.50 L562.00,155.50 M563.50,155.50 L564.50,156.50 L564.50,157.50 L563.50,158.50 L561.50,158.50 L560.50,157.50 M570.50,152.50 L566.50,152.50 L566.50,155.00 L569.50,155.00 L570.50,156.00 L570.50,157.50 L569.50,158.50 L567.50,158.50 L566.50,157.50 M579.50,152.50 L581.50,152.50 L582.50,153.50 L582.50,157.50 L581.50,158.50 L579.50,158.50 L578.50,157.50 L578.50,153.50 Z" fill="none" stroke="#ff0000" stroke-width="1" stroke-linecap="square" /><rect x="572" y="157" width="2" height="2" fill="#ff0000"/>
<path d="M554.50,173.50 L555.50,174.50 L557.50,174.50 L558.50,173.50 L558.50,169.50 L557.50,168.50 L555.50,168.50 L554.50,169.50 L554.50,170.50 L555.50,171.50 L558.50,171.50 M560.50,169.50 L561.50,168.50 L563.50,168.50 L564.50,169.50 L564.50,170.50 L563.50,171.50 L562.00,171.50 M563.50,171.50 L564.50,172.50 L564.50,173.50 L563.50,174.50 L561.50,174.50 L560.50,173.50 M567.50,168.50 L569.50,168.50 L570.50,169.50 L570.50,173.50 L569.50,174.50 L567.50,174.50 L566.50,173.50 L566.50,169.50 Z M579.50,168.50 L581.50,168.50 L582.50,169.50 L582.50,173.50 L581.50,174.50 L579.50,174.50 L578.50,173.50 L578.50,169.50 Z" fill="none" stroke="#ff0000" stroke-width="1" stroke-linecap="square" /><rect x="572" y="173" width="2" height="2" fill="#ff0000"/>
<path d="M554.50,189.50 L555.50,190.50 L557.50,190.50 L558.50,189.50 L558.50,185.50 L557.50,184.50 L555.50,184.50 L554.50,185.50 L554.50,186.50 L555.50,187.50 L558.50,187.50 M560.50,185.50 L561.50,184.50 L563.50,184.50 L564.50,185.50 L564.50,186.50 L560.50,190.50 L564.50,190.50 M570.50,184.50 L566.50,184.50 L566.50,187.00 L569.50,187.00 L570.50,188.00 L570.50,189.50 L569.50,190.50 L567.50,190.50 L566.50,189.50 M579.50,184.50 L581.50,184.50 L582.50,185.50 L582.50,189.50 L581.50,190.50 L579.50,190.50 L578.50,189.50 L578.50,185.50 Z" fill="none" stroke="#ff0000" stroke-width="1" stroke-linecap="square" /><rect x="572" y="189" width="2" height="2" fill="#ff0000"/>
<path d="M554.50,205.50 L555.50,206.50 L557.50,206.50 L558.50,205.50 L558.50,201.50 L557.50,200.50 L555.50,200.50 L554.50,201.50 L554.50,202.50 L555.50,203.50 L558.50,203.50 M560.50,201.50 L561.50,200.50 L563.50,200.50 L564.50,201.50 L564.50,202.50 L560.50,206.50 L564.50,206.50 M567.50,200.50 L569.50,200.50 L570.50,201.50 L570.50,205.50 L569.50,206.50 L567.50,206.50 L566.50,205.50 L566.50,201.50 Z M579.50,200.50 L581.50,200.50 L582.50,201.50 L582.50,205.50 L581.50,206.50 L579.50,206.50 L578.50,205.50 L578.50,201.50 Z" fill="none" stroke="#ff0000" stroke-width="1" stroke-linecap="square" /><rect x="572" y="205" width="2" height="2" fill="#ff0000"/>
<path d="M554.50,221.50 L555.50,222.50 L557.50,222.50 L558.50,221.50 L558.50,217.50 L557.50,216.50 L555.50,216.50 L554.50,217.50 L554.50,218.50 L555.50,219.50 L558.50,219.50 M561.30,218.00 L562.90,216.50 L562.90,222.50 M561.30,222.50 L564.50,222.50 M570.50,216.50 L566.50,216.50 L566.50,219.00 L569.50,219.00 L570.50,220.00 L570.50,221.50 L569.50,222.50 L567.50,222.50 L566.50,221.50 M579.50,216.50 L581.50,216.50 L582.50,217.50 L582.50,221.50 L581.50,222.50 L579.50,222.50 L578.50,221.50 L578.50,217.50 Z" fill="none" stroke="#ff0000" stroke-width="1" stroke-linecap="square" /><rect x="572" y="221" width="2" height="2" fill="#ff0000"/>
<path d="M554.50,237.50 L555.50,238.50 L557.50,238.50 L558.50,237.50 L558.50,233.50 L557.50,232.50 L555.50,232.50 L554.50,233.50 L554.50,234.50 L555.50,235.50 L558.50,235.50 M561.30,234.00 L562.90,232.50 L562.90,238.50 M561.30,238.50 L564.50,238.50 M567.50,232.50 L569.50,232.50 L570.50,233.50 L570.50,237.50 L569.50,238.50 L567.50,238.50 L566.50,237.50 L566.50,233.50 Z M579.50,232.50 L581.50,232.50 L582.50,233.50 L582.50,237.50 L581.50,238.50 L579.50,238.50 L578.50,237.50 L578.50,233.50 Z" fill="none" stroke="#ff0000" stroke-width="1" stroke-linecap="square" /><rect x="572" y="237" width="2" height="2" fill="#ff0000"/>
<path d="M566.50,246.50 L570.50,246.50 L570.50,247.50 L568.00,252.50 M579.50,246.50 L581.50,246.50 L582.50,247.50 L582.50,251.50 L581.50,252.50 L579.50,252.50 L578.50,251.50 L578.50,247.50 Z" fill="none" stroke="#ff0000" stroke-width="1" stroke-linecap="square" /><rect x="572" y="251" width="2" height="2" fill="#ff0000"/>
<path d="M570.50,261.50 L569.50,260.50 L567.50,260.50 L566.50,261.50 L566.50,265.50 L567.50,266.50 L569.50,266.50 L570.50,265.50 L570.50,264.50 L569.50,263.50 L566.50,263.50 M579.50,260.50 L581.50,260.50 L582.50,261.50 L582.50,265.50 L581.50,266.50 L579.50,266.50 L578.50,265.50 L578.50,261.50 Z" fill="none" stroke="#ff0000" stroke-width="1" stroke-linecap="square" /><rect x="572" y="265" width="2" height="2" fill="#ff0000"/>
<path d="M570.50,274.50 L566.50,274.50 L566.50,277.00 L569.50,277.00 L570.50,278.00 L570.50,279.50 L569.50,280.50 L567.50,280.50 L566.50,279.50 M579.50,274.50 L581.50,274.50 L582.50,275.50 L582.50,279.50 L581.50,280.50 L579.50,280.50 L578.50,279.50 L578.50,275.50 Z" fill="none" stroke="#ff0000" stroke-width="1" stroke-linecap="square" /><rect x="572" y="279" width="2" height="2" fill="#ff0000"/>
<path d="M569.70,294.50 L569.70,288.50 L566.50,292.50 L570.50,292.50 M579.50,288.50 L581.50,288.50 L582.50,289.50 L582.50,293.50 L581.50,294.50 L579.50,294.50 L578.50,293.50 L578.50,289.50 Z" fill="none" stroke="#ff0000" stroke-width="1" stroke-linecap="square" /><rect x="572" y="293" width="2" height="2" fill="#ff0000"/>
<path d="M566.50,303.50 L567.50,302.50 L569.50,302.50 L570.50,303.50 L570.50,304.50 L569.50,305.50 L568.00,305.50 M569.50,305.50 L570.50,306.50 L570.50,307.50 L569.50,308.50 L567.50,308.50 L566.50,307.50 M579.50,302.50 L581.50,302.50 L582.50,303.50 L582.50,307.50 L581.50,308.50 L579.50,308.50 L578.50,307.50 L578.50,303.50 Z" fill="none" stroke="#ff0000" stroke-width="1" stroke-linecap="square" /><rect x="572" y="307" width="2" height="2" fill="#ff0000"/>
<path d="M566.50,317.50 L567.50,316.50 L569.50,316.50 L570.50,317.50 L570.50,318.50 L566.50,322.50 L570.50,322.50 M579.50,316.50 L581.50,316.50 L582.50,317.50 L582.50,321.50 L581.50,322.50 L579.50,322.50 L578.50,321.50 L578.50,317.50 Z" fill="none" stroke="#ff0000" stroke-width="1" stroke-linecap="square" /><rect x="572" y="321" width="2" height="2" fill="#ff0000"/>
<path d="M567.30,331.00 L568.90,329.50 L568.90,335.50 M567.30,335.50 L570.50,335.50 M579.50,329.50 L581.50,329.50 L582.50,330.50 L582.50,334.50 L581.50,335.50 L579.50,335.50 L578.50,334.50 L578.50,330.50 Z" fill="none" stroke="#ff0000" stroke-width="1" stroke-linecap="square" /><rect x="572" y="334" width="2" height="2" fill="#ff0000"/>
<path d="M555.30,340.00 L556.90,338.50 L556.90,344.50 M555.30,344.50 L558.50,344.50 M561.50,338.50 L563.50,338.50 L564.50,339.50 L564.50,343.50 L563.50,344.50 L561.50,344.50 L560.50,343.50 L560.50,339.50 Z M567.50,338.50 L569.50,338.50 L570.50,339.50 L570.50,343.50 L569.50,344.50 L567.50,344.50 L566.50,343.50 L566.50,339.50 Z M579.50,338.50 L581.50,338.50 L582.50,339.50 L582.50,343.50 L581.50,344.50 L579.50,344.50 L578.50,343.50 L578.50,339.50 Z" fill="none" stroke="#ff0000" stroke-width="1" stroke-linecap="square" /><rect x="572" y="343" width="2" height="2" fill="#ff0000"/>
<path d="M560.50,352.50 L561.50,353.50 L563.50,353.50 L564.50,352.50 L564.50,348.50 L563.50,347.50 L561.50,347.50 L560.50,348.50 L560.50,349.50 L561.50,350.50 L564.50,350.50 M567.50,347.50 L569.50,347.50 L570.50,348.50 L570.50,352.50 L569.50,353.50 L567.50,353.50 L566.50,352.50 L566.50,348.50 Z M579.50,347.50 L581.50,347.50 L582.50,348.50 L582.50,352.50 L581.50,353.50 L579.50,353.50 L578.50,352.50 L578.50,348.50 Z" fill="none" stroke="#ff0000" stroke-width="1" stroke-linecap="square" /><rect x="572" y="352" width="2" height="2" fill="#ff0000"/>
<path d="M561.50,356.50 L563.50,356.50 L564.50,357.50 L564.50,358.50 L563.50,359.50 L561.50,359.50 L560.50,358.50 L560.50,357.50 Z M561.50,359.50 L560.50,360.50 L560.50,361.50 L561.50,362.50 L563.50,362.50 L564.50,361.50 L564.50,360.50 L563.50,359.50 M567.50,356.50 L569.50,356.50 L570.50,357.50 L570.50,361.50 L569.50,362.50 L567.50,362.50 L566.50,361.50 L566.50,357.50 Z M579.50,356.50 L581.50,356.50 L582.50,357.50 L582.50,361.50 L581.50,362.50 L579.50,362.50 L578.50,361.50 L578.50,357.50 Z" fill="none" stroke="#ff0000" stroke-width="1" stroke-linecap="square" /><rect x="572" y="361" width="2" height="2" fill="#ff0000"/>
<path d="M560.50,365.50 L564.50,365.50 L564.50,366.50 L562.00,371.50 M567.50,365.50 L569.50,365.50 L570.50,366.50 L570.50,370.50 L569.50,371.50 L567.50,371.50 L566.50,370.50 L566.50,366.50 Z M579.50,365.50 L581.50,365.50 L582.50,366.50 L582.50,370.50 L581.50,371.50 L579.50,371.50 L578.50,370.50 L578.50,366.50 Z" fill="none" stroke="#ff0000" stroke-width="1" stroke-linecap="square" /><rect x="572" y="370" width="2" height="2" fill="#ff0000"/>
<path d="M564.50,375.50 L563.50,374.50 L561.50,374.50 L560.50,375.50 L560.50,379.50 L561.50,380.50 L563.50,380.50 L564.50,379.50 L564.50,378.50 L563.50,377.50 L560.50,377.50 M567.50,374.50 L569.50,374.50 L570.50,375.50 L570.50,379.50 L569.50,380.50 L567.50,380.50 L566.50,379.50 L566.50,375.50 Z M579.50,374.50 L581.50,374.50 L582.50,375.50 L582.50,379.50 L581.50,380.50 L579.50,380.50 L578.50,379.50 L578.50,375.50 Z" fill="none" stroke="#ff0000" stroke-width="1" stroke-linecap="square" /><rect x="572" y="379" width="2" height="2" fill="#ff0000"/>
<path d="M564.50,382.50 L560.50,382.50 L560.50,385.00 L563.50,385.00 L564.50,386.00 L564.50,387.50 L563.50,388.50 L561.50,388.50 L560.50,387.50 M567.50,382.50 L569.50,382.50 L570.50,383.50 L570.50,387.50 L569.50,388.50 L567.50,388.50 L566.50,387.50 L566.50,383.50 Z M579.50,382.50 L581.50,382.50 L582.50,383.50 L582.50,387.50 L581.50,388.50 L579.50,388.50 L578.50,387.50 L578.50,383.50 Z" fill="none" stroke="#ff0000" stroke-width="1" stroke-linecap="square" /><rect x="572" y="387" width="2" height="2" fill="#ff0000"/>
<path d="M563.70,397.50 L563.70,391.50 L560.50,395.50 L564.50,395.50 M567.50,391.50 L569.50,391.50 L570.50,392.50 L570.50,396.50 L569.50,397.50 L567.50,397.50 L566.50,396.50 L566.50,392.50 Z M579.50,391.50 L581.50,391.50 L582.50,392.50 L582.50,396.50 L581.50,397.50 L579.50,397.50 L578.50,396.50 L578.50,392.50 Z" fill="none" stroke="#ff0000" stroke-width="1" stroke-linecap="square" /><rect x="572" y="396" width="2" height="2" fill="#ff0000"/>
<path d="M560.50,401.50 L561.50,400.50 L563.50,400.50 L564.50,401.50 L564.50,402.50 L563.50,403.50 L562.00,403.50 M563.50,403.50 L564.50,404.50 L564.50,405.50 L563.50,406.50 L561.50,406.50 L560.50,405.50 M567.50,400.50 L569.50,400.50 L570.50,401.50 L570.50,405.50 L569.50,406.50 L567.50,406.50 L566.50,405.50 L566.50,401.50 Z M579.50,400.50 L581.50,400.50 L582.50,401.50 L582.50,405.50 L581.50,406.50 L579.50,406.50 L578.50,405.50 L578.50,401.50 Z" fill="none" stroke="#ff0000" stroke-width="1" stroke-linecap="square" /><rect x="572" y="405" width="2" height="2" fill="#ff0000"/>
<path d="M560.50,410.50 L561.50,409.50 L563.50,409.50 L564.50,410.50 L564.50,411.50 L560.50,415.50 L564.50,415.50 M567.50,409.50 L569.50,409.50 L570.50,410.50 L570.50,414.50 L569.50,415.50 L567.50,415.50 L566.50,414.50 L566.50,410.50 Z M579.50,409.50 L581.50,409.50 L582.50,410.50 L582.50,414.50 L581.50,415.50 L579.50,415.50 L578.50,414.50 L578.50,410.50 Z" fill="none" stroke="#ff0000" stroke-width="1" stroke-linecap="square" /><rect x="572" y="414" width="2" height="2" fill="#ff0000"/>
<path d="M561.30,420.00 L562.90,418.50 L562.90,424.50 M561.30,424.50 L564.50,424.50 M567.50,418.50 L569.50,418.50 L570.50,419.50 L570.50,423.50 L569.50,424.50 L567.50,424.50 L566.50,423.50 L566.50,419.50 Z M579.50,418.50 L581.50,418.50 L582.50,419.50 L582.50,423.50 L581.50,424.50 L579.50,424.50 L578.50,423.50 L578.50,419.50 Z" fill="none" stroke="#ff0000" stroke-width="1" stroke-linecap="square" /><rect x="572" y="423" width="2" height="2" fill="#ff0000"/>
<path d="M567.50,426.50 L569.50,426.50 L570.50,427.50 L570.50,431.50 L569.50,432.50 L567.50,432.50 L566.50,431.50 L566.50,427.50 Z M579.50,426.50 L581.50,426.50 L582.50,427.50 L582.50,431.50 L581.50,432.50 L579.50,432.50 L578.50,431.50 L578.50,427.50 Z" fill="none" stroke="#ff0000" stroke-width="1" stroke-linecap="square" /><rect x="572" y="431" width="2" height="2" fill="#ff0000"/>
<path d="M589.50,86.50 L593.50,86.50 M591.50,86.50 L591.50,92.50 M598.50,86.50 L597.50,87.50 L597.50,91.50 L598.50,92.50 M605.50,87.50 L604.50,86.50 L602.50,86.50 L601.50,87.50 L601.50,91.50 L602.50,92.50 L604.50,92.50 L605.50,91.50 M608.50,86.50 L609.50,87.50 L609.50,91.50 L608.50,92.50" fill="none" stroke="#ff0000" stroke-width="1" stroke-linecap="square" />
<path d="M589.50,189.50 L589.50,183.50 L592.50,183.50 L593.50,184.50 L593.50,185.50 L592.50,186.50 L589.50,186.50 M595.50,185.50 L595.50,189.50 M595.50,186.50 L596.50,185.50 L598.50,185.50 L599.50,186.50 M601.50,187.50 L605.50,187.50 L605.50,186.50 L604.50,185.50 L602.50,185.50 L601.50,186.50 L601.50,188.50 L602.50,189.50 L605.00,189.50 M616.50,183.50 L615.50,184.50 L615.50,188.50 L616.50,189.50 M619.50,189.50 L619.50,185.50 M619.50,186.50 L620.50,185.50 L621.50,186.50 L621.50,189.50 M621.50,186.50 L622.50,185.50 L623.50,186.50 L623.50,189.50 M625.50,183.50 L625.50,189.50 L628.50,189.50 L629.50,188.50 L629.50,186.50 L628.50,185.50 L625.50,185.50 M632.50,183.50 L633.50,184.50 L633.50,188.50 L632.50,189.50" fill="none" stroke="#ff0000" stroke-width="1" stroke-linecap="square" />
<path d="M593.50,281.50 L592.50,280.50 L590.50,280.50 L589.50,281.50 L589.50,282.50 L590.50,283.50 L592.50,283.50 L593.50,284.50 L593.50,285.50 L592.50,286.50 L590.50,286.50 L589.50,285.50 M595.50,286.50 L595.50,280.50 L598.50,280.50 L599.50,281.50 L599.50,282.50 L598.50,283.50 L595.50,283.50 M601.50,280.50 L601.50,286.50 L604.50,286.50 L605.50,285.50 L605.50,281.50 L604.50,280.50 Z M610.50,280.50 L609.50,281.50 L609.50,285.50 L610.50,286.50 M613.50,286.50 L613.50,280.50 L615.50,283.00 L617.50,280.50 L617.50,286.50 M619.50,286.50 L619.50,280.50 L622.50,280.50 L623.50,281.50 L623.50,282.50 L622.50,283.50 L619.50,283.50 M629.50,281.50 L628.50,280.50 L626.50,280.50 L625.50,281.50 L625.50,282.50 L626.50,283.50 L628.50,283.50 L629.50,284.50 L629.50,285.50 L628.50,286.50 L626.50,286.50 L625.50,285.50 M632.50,280.50 L633.50,281.50 L633.50,285.50 L632.50,286.50" fill="none" stroke="#ff0000" stroke-width="1" stroke-linecap="square" />
<path d="M589.50,383.50 L589.50,377.50 L592.50,377.50 L593.50,378.50 L593.50,379.50 L592.50,380.50 L589.50,380.50 M591.50,380.50 L593.50,383.50 M595.50,377.50 L595.50,383.50 M599.50,377.50 L599.50,383.50 M595.50,380.50 L599.50,380.50 M604.50,377.50 L603.50,378.50 L603.50,382.50 L604.50,383.50 M607.50,383.50 L611.50,377.50 M607.50,377.50 L608.50,377.50 L608.50,378.50 L607.50,378.50 Z M610.50,382.50 L611.50,382.50 L611.50,383.50 L610.50,383.50 Z M614.50,377.50 L615.50,378.50 L615.50,382.50 L614.50,383.50" fill="none" stroke="#ff0000" stroke-width="1" stroke-linecap="square" />
</svg>
</body></html>
